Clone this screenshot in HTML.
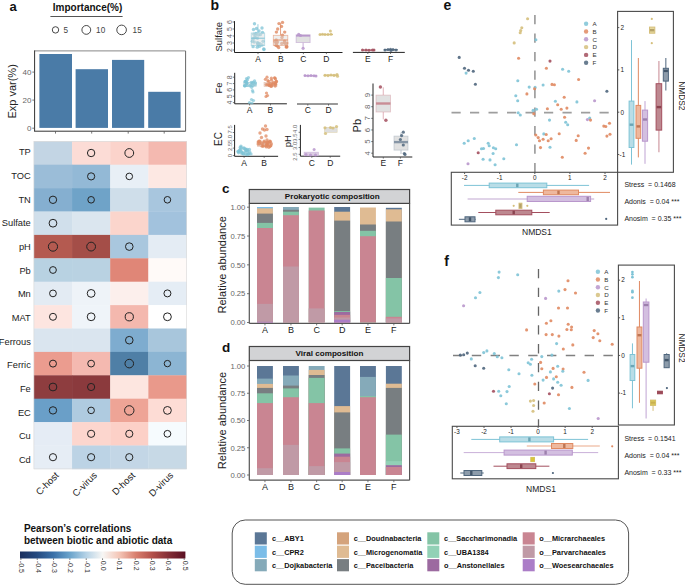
<!DOCTYPE html><html><head><meta charset="utf-8"><style>html,body{margin:0;padding:0;background:#fff;overflow:hidden}svg{display:block;font-family:"Liberation Sans", sans-serif}</style></head><body><svg width="685" height="585" viewBox="0 0 685 585"><text x="9.60" y="11.00" font-size="13" fill="#111" text-anchor="start" font-weight="bold">a</text>
<text x="52.80" y="11.20" font-size="10" fill="#111" text-anchor="start" font-weight="bold">Importance(%)</text>
<line x1="50.40" y1="16.50" x2="122.60" y2="16.50" stroke="#555" stroke-width="1"/>
<circle cx="55.50" cy="29.90" r="3.20" fill="none" stroke="#333" stroke-width="0.9"/>
<text x="63.50" y="32.90" font-size="8.2" fill="#444" text-anchor="start">5</text>
<circle cx="86.30" cy="29.90" r="4.40" fill="none" stroke="#333" stroke-width="0.9"/>
<text x="96.10" y="32.90" font-size="8.2" fill="#444" text-anchor="start">10</text>
<circle cx="121.60" cy="29.90" r="4.80" fill="none" stroke="#333" stroke-width="0.9"/>
<text x="132.60" y="32.90" font-size="8.2" fill="#444" text-anchor="start">15</text>
<rect x="39.40" y="54.00" width="32.60" height="73.90" fill="#4a7ba7" stroke="none" stroke-width="1"/>
<rect x="75.60" y="69.20" width="32.40" height="58.70" fill="#4a7ba7" stroke="none" stroke-width="1"/>
<rect x="112.00" y="59.90" width="32.20" height="68.00" fill="#4a7ba7" stroke="none" stroke-width="1"/>
<rect x="148.20" y="91.80" width="32.40" height="36.10" fill="#4a7ba7" stroke="none" stroke-width="1"/>
<line x1="34.60" y1="50.90" x2="185.60" y2="50.90" stroke="#888" stroke-width="1"/>
<line x1="185.60" y1="50.90" x2="185.60" y2="131.20" stroke="#666" stroke-width="1"/>
<line x1="34.60" y1="50.40" x2="34.60" y2="131.20" stroke="#333" stroke-width="1"/>
<line x1="34.10" y1="131.20" x2="185.60" y2="131.20" stroke="#333" stroke-width="1"/>
<line x1="32.30" y1="128.20" x2="34.60" y2="128.20" stroke="#555" stroke-width="0.8"/>
<text x="31.50" y="131.10" font-size="8" fill="#666" text-anchor="end">0</text>
<line x1="32.30" y1="100.10" x2="34.60" y2="100.10" stroke="#555" stroke-width="0.8"/>
<text x="31.50" y="103.00" font-size="8" fill="#666" text-anchor="end">20</text>
<line x1="32.30" y1="72.10" x2="34.60" y2="72.10" stroke="#555" stroke-width="0.8"/>
<text x="31.50" y="75.00" font-size="8" fill="#666" text-anchor="end">40</text>
<line x1="55.50" y1="131.20" x2="55.50" y2="133.60" stroke="#555" stroke-width="0.8"/>
<line x1="91.70" y1="131.20" x2="91.70" y2="133.60" stroke="#555" stroke-width="0.8"/>
<line x1="128.20" y1="131.20" x2="128.20" y2="133.60" stroke="#555" stroke-width="0.8"/>
<line x1="164.20" y1="131.20" x2="164.20" y2="133.60" stroke="#555" stroke-width="0.8"/>
<text x="16.20" y="91.40" font-size="11" fill="#222" text-anchor="middle" transform="rotate(-90 16.20 91.40)">Exp var(%)</text>
<rect x="33.90" y="141.30" width="38.45" height="23.70" fill="#c3d5e4" stroke="none" stroke-width="1"/>
<rect x="72.05" y="141.30" width="38.45" height="23.70" fill="#fcdcd6" stroke="none" stroke-width="1"/>
<rect x="110.20" y="141.30" width="38.45" height="23.70" fill="#fbd3cb" stroke="none" stroke-width="1"/>
<rect x="148.35" y="141.30" width="38.45" height="23.70" fill="#f4b9b0" stroke="none" stroke-width="1"/>
<text x="30.80" y="155.40" font-size="9.3" fill="#222" text-anchor="end">TP</text>
<rect x="33.90" y="164.70" width="38.45" height="23.70" fill="#9bbdd8" stroke="none" stroke-width="1"/>
<rect x="72.05" y="164.70" width="38.45" height="23.70" fill="#93b9d6" stroke="none" stroke-width="1"/>
<rect x="110.20" y="164.70" width="38.45" height="23.70" fill="#e8eff6" stroke="none" stroke-width="1"/>
<rect x="148.35" y="164.70" width="38.45" height="23.70" fill="#fde8e3" stroke="none" stroke-width="1"/>
<text x="30.80" y="179.07" font-size="9.3" fill="#222" text-anchor="end">TOC</text>
<rect x="33.90" y="188.10" width="38.45" height="23.70" fill="#85afd0" stroke="none" stroke-width="1"/>
<rect x="72.05" y="188.10" width="38.45" height="23.70" fill="#6fa3c8" stroke="none" stroke-width="1"/>
<rect x="110.20" y="188.10" width="38.45" height="23.70" fill="#cfdeea" stroke="none" stroke-width="1"/>
<rect x="148.35" y="188.10" width="38.45" height="23.70" fill="#a8c6de" stroke="none" stroke-width="1"/>
<text x="30.80" y="202.74" font-size="9.3" fill="#222" text-anchor="end">TN</text>
<rect x="33.90" y="211.50" width="38.45" height="23.70" fill="#d0dfeb" stroke="none" stroke-width="1"/>
<rect x="72.05" y="211.50" width="38.45" height="23.70" fill="#dbe6ef" stroke="none" stroke-width="1"/>
<rect x="110.20" y="211.50" width="38.45" height="23.70" fill="#fbd5cc" stroke="none" stroke-width="1"/>
<rect x="148.35" y="211.50" width="38.45" height="23.70" fill="#a2c2dd" stroke="none" stroke-width="1"/>
<text x="30.80" y="226.41" font-size="9.3" fill="#222" text-anchor="end">Sulfate</text>
<rect x="33.90" y="234.90" width="38.45" height="23.70" fill="#b45a50" stroke="none" stroke-width="1"/>
<rect x="72.05" y="234.90" width="38.45" height="23.70" fill="#a44e48" stroke="none" stroke-width="1"/>
<rect x="110.20" y="234.90" width="38.45" height="23.70" fill="#a9c7de" stroke="none" stroke-width="1"/>
<rect x="148.35" y="234.90" width="38.45" height="23.70" fill="#e4ecf4" stroke="none" stroke-width="1"/>
<text x="30.80" y="250.08" font-size="9.3" fill="#222" text-anchor="end">pH</text>
<rect x="33.90" y="258.30" width="38.45" height="23.70" fill="#b8d2e2" stroke="none" stroke-width="1"/>
<rect x="72.05" y="258.30" width="38.45" height="23.70" fill="#b9d2e2" stroke="none" stroke-width="1"/>
<rect x="110.20" y="258.30" width="38.45" height="23.70" fill="#e08677" stroke="none" stroke-width="1"/>
<rect x="148.35" y="258.30" width="38.45" height="23.70" fill="#fffaf8" stroke="none" stroke-width="1"/>
<text x="30.80" y="273.75" font-size="9.3" fill="#222" text-anchor="end">Pb</text>
<rect x="33.90" y="281.70" width="38.45" height="23.70" fill="#e3ebf3" stroke="none" stroke-width="1"/>
<rect x="72.05" y="281.70" width="38.45" height="23.70" fill="#eef3f8" stroke="none" stroke-width="1"/>
<rect x="110.20" y="281.70" width="38.45" height="23.70" fill="#fcefec" stroke="none" stroke-width="1"/>
<rect x="148.35" y="281.70" width="38.45" height="23.70" fill="#e5edf5" stroke="none" stroke-width="1"/>
<text x="30.80" y="297.42" font-size="9.3" fill="#222" text-anchor="end">Mn</text>
<rect x="33.90" y="305.10" width="38.45" height="23.70" fill="#fde5e0" stroke="none" stroke-width="1"/>
<rect x="72.05" y="305.10" width="38.45" height="23.70" fill="#eff4f9" stroke="none" stroke-width="1"/>
<rect x="110.20" y="305.10" width="38.45" height="23.70" fill="#f4b8ae" stroke="none" stroke-width="1"/>
<rect x="148.35" y="305.10" width="38.45" height="23.70" fill="#ffffff" stroke="none" stroke-width="1"/>
<text x="30.80" y="321.09" font-size="9.3" fill="#222" text-anchor="end">MAT</text>
<rect x="33.90" y="328.50" width="38.45" height="23.70" fill="#dae5ef" stroke="none" stroke-width="1"/>
<rect x="72.05" y="328.50" width="38.45" height="23.70" fill="#dae5ef" stroke="none" stroke-width="1"/>
<rect x="110.20" y="328.50" width="38.45" height="23.70" fill="#7eaccf" stroke="none" stroke-width="1"/>
<rect x="148.35" y="328.50" width="38.45" height="23.70" fill="#a8c6dc" stroke="none" stroke-width="1"/>
<text x="30.80" y="344.76" font-size="9.3" fill="#222" text-anchor="end">Ferrous</text>
<rect x="33.90" y="351.90" width="38.45" height="23.70" fill="#eb9c8f" stroke="none" stroke-width="1"/>
<rect x="72.05" y="351.90" width="38.45" height="23.70" fill="#f4b9b0" stroke="none" stroke-width="1"/>
<rect x="110.20" y="351.90" width="38.45" height="23.70" fill="#4f7fa6" stroke="none" stroke-width="1"/>
<rect x="148.35" y="351.90" width="38.45" height="23.70" fill="#8cb5d3" stroke="none" stroke-width="1"/>
<text x="30.80" y="368.43" font-size="9.3" fill="#222" text-anchor="end">Ferric</text>
<rect x="33.90" y="375.30" width="38.45" height="23.70" fill="#8e3d3f" stroke="none" stroke-width="1"/>
<rect x="72.05" y="375.30" width="38.45" height="23.70" fill="#8b3a3d" stroke="none" stroke-width="1"/>
<rect x="110.20" y="375.30" width="38.45" height="23.70" fill="#fde6e0" stroke="none" stroke-width="1"/>
<rect x="148.35" y="375.30" width="38.45" height="23.70" fill="#e9998b" stroke="none" stroke-width="1"/>
<text x="30.80" y="392.10" font-size="9.3" fill="#222" text-anchor="end">Fe</text>
<rect x="33.90" y="398.70" width="38.45" height="23.70" fill="#6a9fc8" stroke="none" stroke-width="1"/>
<rect x="72.05" y="398.70" width="38.45" height="23.70" fill="#afcbe0" stroke="none" stroke-width="1"/>
<rect x="110.20" y="398.70" width="38.45" height="23.70" fill="#eea496" stroke="none" stroke-width="1"/>
<rect x="148.35" y="398.70" width="38.45" height="23.70" fill="#fddcd5" stroke="none" stroke-width="1"/>
<text x="30.80" y="415.77" font-size="9.3" fill="#222" text-anchor="end">EC</text>
<rect x="33.90" y="422.10" width="38.45" height="23.70" fill="#e5ecf5" stroke="none" stroke-width="1"/>
<rect x="72.05" y="422.10" width="38.45" height="23.70" fill="#fcd6ce" stroke="none" stroke-width="1"/>
<rect x="110.20" y="422.10" width="38.45" height="23.70" fill="#fcd0c7" stroke="none" stroke-width="1"/>
<rect x="148.35" y="422.10" width="38.45" height="23.70" fill="#f6fbfe" stroke="none" stroke-width="1"/>
<text x="30.80" y="439.44" font-size="9.3" fill="#222" text-anchor="end">Cu</text>
<rect x="33.90" y="445.50" width="38.45" height="23.70" fill="#e6edf5" stroke="none" stroke-width="1"/>
<rect x="72.05" y="445.50" width="38.45" height="23.70" fill="#bcd3e5" stroke="none" stroke-width="1"/>
<rect x="110.20" y="445.50" width="38.45" height="23.70" fill="#c3d6e6" stroke="none" stroke-width="1"/>
<rect x="148.35" y="445.50" width="38.45" height="23.70" fill="#c7d9e6" stroke="none" stroke-width="1"/>
<text x="30.80" y="463.11" font-size="9.3" fill="#222" text-anchor="end">Cd</text>
<circle cx="91.12" cy="153.00" r="3.70" fill="none" stroke="#222" stroke-width="1.0"/>
<circle cx="129.28" cy="153.00" r="4.40" fill="none" stroke="#222" stroke-width="1.0"/>
<circle cx="91.12" cy="176.40" r="3.60" fill="none" stroke="#222" stroke-width="1.0"/>
<circle cx="129.28" cy="176.40" r="3.30" fill="none" stroke="#222" stroke-width="1.0"/>
<circle cx="52.97" cy="199.80" r="3.70" fill="none" stroke="#222" stroke-width="1.0"/>
<circle cx="91.12" cy="199.80" r="3.30" fill="none" stroke="#222" stroke-width="1.0"/>
<circle cx="167.43" cy="199.80" r="3.30" fill="none" stroke="#222" stroke-width="1.0"/>
<circle cx="52.97" cy="223.20" r="3.90" fill="none" stroke="#222" stroke-width="1.0"/>
<circle cx="52.97" cy="246.60" r="4.60" fill="none" stroke="#222" stroke-width="1.0"/>
<circle cx="91.12" cy="246.60" r="4.40" fill="none" stroke="#222" stroke-width="1.0"/>
<circle cx="129.28" cy="246.60" r="3.80" fill="none" stroke="#222" stroke-width="1.0"/>
<circle cx="52.97" cy="270.00" r="3.40" fill="none" stroke="#222" stroke-width="1.0"/>
<circle cx="52.97" cy="293.40" r="3.40" fill="none" stroke="#222" stroke-width="1.0"/>
<circle cx="91.12" cy="293.40" r="3.90" fill="none" stroke="#222" stroke-width="1.0"/>
<circle cx="167.43" cy="293.40" r="3.50" fill="none" stroke="#222" stroke-width="1.0"/>
<circle cx="52.97" cy="316.80" r="3.50" fill="none" stroke="#222" stroke-width="1.0"/>
<circle cx="91.12" cy="316.80" r="3.90" fill="none" stroke="#222" stroke-width="1.0"/>
<circle cx="129.28" cy="316.80" r="4.10" fill="none" stroke="#222" stroke-width="1.0"/>
<circle cx="167.43" cy="316.80" r="3.90" fill="none" stroke="#222" stroke-width="1.0"/>
<circle cx="129.28" cy="340.20" r="3.80" fill="none" stroke="#222" stroke-width="1.0"/>
<circle cx="52.97" cy="363.60" r="3.50" fill="none" stroke="#222" stroke-width="1.0"/>
<circle cx="91.12" cy="363.60" r="3.40" fill="none" stroke="#222" stroke-width="1.0"/>
<circle cx="129.28" cy="363.60" r="4.30" fill="none" stroke="#222" stroke-width="1.0"/>
<circle cx="167.43" cy="363.60" r="3.20" fill="none" stroke="#222" stroke-width="1.0"/>
<circle cx="52.97" cy="387.00" r="3.90" fill="none" stroke="#222" stroke-width="1.0"/>
<circle cx="91.12" cy="387.00" r="3.60" fill="none" stroke="#222" stroke-width="1.0"/>
<circle cx="52.97" cy="410.40" r="3.70" fill="none" stroke="#222" stroke-width="1.0"/>
<circle cx="91.12" cy="410.40" r="3.30" fill="none" stroke="#222" stroke-width="1.0"/>
<circle cx="129.28" cy="410.40" r="4.70" fill="none" stroke="#222" stroke-width="1.0"/>
<circle cx="167.43" cy="410.40" r="3.90" fill="none" stroke="#222" stroke-width="1.0"/>
<circle cx="91.12" cy="433.80" r="3.60" fill="none" stroke="#222" stroke-width="1.0"/>
<circle cx="129.28" cy="433.80" r="3.60" fill="none" stroke="#222" stroke-width="1.0"/>
<circle cx="167.43" cy="433.80" r="3.40" fill="none" stroke="#222" stroke-width="1.0"/>
<circle cx="52.97" cy="457.20" r="3.60" fill="none" stroke="#222" stroke-width="1.0"/>
<circle cx="91.12" cy="457.20" r="3.60" fill="none" stroke="#222" stroke-width="1.0"/>
<circle cx="129.28" cy="457.20" r="3.60" fill="none" stroke="#222" stroke-width="1.0"/>
<rect x="33.90" y="141.30" width="152.60" height="327.60" fill="none" stroke="#d8d8d8" stroke-width="0.6"/>
<text x="59.47" y="476.00" font-size="9.5" fill="#222" text-anchor="end" transform="rotate(-45 59.47 476.00)">C-host</text>
<text x="97.62" y="476.00" font-size="9.5" fill="#222" text-anchor="end" transform="rotate(-45 97.62 476.00)">C-virus</text>
<text x="135.78" y="476.00" font-size="9.5" fill="#222" text-anchor="end" transform="rotate(-45 135.78 476.00)">D-host</text>
<text x="173.93" y="476.00" font-size="9.5" fill="#222" text-anchor="end" transform="rotate(-45 173.93 476.00)">D-virus</text>
<text x="23.90" y="531.80" font-size="10" fill="#111" text-anchor="start" font-weight="bold">Pearson’s correlations</text>
<text x="23.90" y="543.90" font-size="10" fill="#111" text-anchor="start" font-weight="bold">between biotic and abiotic data</text>
<defs><linearGradient id="rdbu" x1="0" x2="1" y1="0" y2="0"><stop offset="0" stop-color="#1b2f5e"/><stop offset="0.1" stop-color="#24497f"/><stop offset="0.2" stop-color="#3a70a8"/><stop offset="0.3" stop-color="#6aa3cb"/><stop offset="0.4" stop-color="#b5d2e6"/><stop offset="0.5" stop-color="#f7f6f4"/><stop offset="0.6" stop-color="#f4c6b7"/><stop offset="0.7" stop-color="#d97f6e"/><stop offset="0.8" stop-color="#b3504a"/><stop offset="0.9" stop-color="#832e36"/><stop offset="1" stop-color="#5a0f22"/></linearGradient></defs>
<rect x="20.00" y="551.50" width="165.40" height="7.00" fill="url(#rdbu)" stroke="none" stroke-width="1"/>
<line x1="20.90" y1="558.50" x2="20.90" y2="559.80" stroke="#333" stroke-width="0.8"/>
<text x="19.30" y="560.80" font-size="7" fill="#333" text-anchor="start" transform="rotate(90 19.30 560.80)">-0.5</text>
<line x1="37.23" y1="558.50" x2="37.23" y2="559.80" stroke="#333" stroke-width="0.8"/>
<text x="35.63" y="560.80" font-size="7" fill="#333" text-anchor="start" transform="rotate(90 35.63 560.80)">-0.4</text>
<line x1="53.56" y1="558.50" x2="53.56" y2="559.80" stroke="#333" stroke-width="0.8"/>
<text x="51.96" y="560.80" font-size="7" fill="#333" text-anchor="start" transform="rotate(90 51.96 560.80)">-0.3</text>
<line x1="69.89" y1="558.50" x2="69.89" y2="559.80" stroke="#333" stroke-width="0.8"/>
<text x="68.29" y="560.80" font-size="7" fill="#333" text-anchor="start" transform="rotate(90 68.29 560.80)">-0.2</text>
<line x1="86.22" y1="558.50" x2="86.22" y2="559.80" stroke="#333" stroke-width="0.8"/>
<text x="84.62" y="560.80" font-size="7" fill="#333" text-anchor="start" transform="rotate(90 84.62 560.80)">-0.1</text>
<line x1="102.55" y1="558.50" x2="102.55" y2="559.80" stroke="#333" stroke-width="0.8"/>
<text x="100.95" y="560.80" font-size="7" fill="#333" text-anchor="start" transform="rotate(90 100.95 560.80)">0.0</text>
<line x1="118.88" y1="558.50" x2="118.88" y2="559.80" stroke="#333" stroke-width="0.8"/>
<text x="117.28" y="560.80" font-size="7" fill="#333" text-anchor="start" transform="rotate(90 117.28 560.80)">0.1</text>
<line x1="135.21" y1="558.50" x2="135.21" y2="559.80" stroke="#333" stroke-width="0.8"/>
<text x="133.61" y="560.80" font-size="7" fill="#333" text-anchor="start" transform="rotate(90 133.61 560.80)">0.2</text>
<line x1="151.54" y1="558.50" x2="151.54" y2="559.80" stroke="#333" stroke-width="0.8"/>
<text x="149.94" y="560.80" font-size="7" fill="#333" text-anchor="start" transform="rotate(90 149.94 560.80)">0.3</text>
<line x1="167.87" y1="558.50" x2="167.87" y2="559.80" stroke="#333" stroke-width="0.8"/>
<text x="166.27" y="560.80" font-size="7" fill="#333" text-anchor="start" transform="rotate(90 166.27 560.80)">0.4</text>
<line x1="184.20" y1="558.50" x2="184.20" y2="559.80" stroke="#333" stroke-width="0.8"/>
<text x="182.60" y="560.80" font-size="7" fill="#333" text-anchor="start" transform="rotate(90 182.60 560.80)">0.5</text>
<text x="210.50" y="10.20" font-size="14" fill="#111" text-anchor="start" font-weight="bold">b</text>
<line x1="234.50" y1="21.10" x2="234.50" y2="52.50" stroke="#222" stroke-width="1"/>
<line x1="232.70" y1="50.00" x2="234.50" y2="50.00" stroke="#444" stroke-width="0.7"/>
<text x="231.70" y="50.00" font-size="7" fill="#666" text-anchor="middle" transform="rotate(-90 231.70 50.00)">2</text>
<line x1="232.70" y1="43.00" x2="234.50" y2="43.00" stroke="#444" stroke-width="0.7"/>
<text x="231.70" y="43.00" font-size="7" fill="#666" text-anchor="middle" transform="rotate(-90 231.70 43.00)">3</text>
<line x1="232.70" y1="36.00" x2="234.50" y2="36.00" stroke="#444" stroke-width="0.7"/>
<text x="231.70" y="36.00" font-size="7" fill="#666" text-anchor="middle" transform="rotate(-90 231.70 36.00)">4</text>
<line x1="232.70" y1="29.00" x2="234.50" y2="29.00" stroke="#444" stroke-width="0.7"/>
<text x="231.70" y="29.00" font-size="7" fill="#666" text-anchor="middle" transform="rotate(-90 231.70 29.00)">5</text>
<line x1="232.70" y1="22.00" x2="234.50" y2="22.00" stroke="#444" stroke-width="0.7"/>
<text x="231.70" y="22.00" font-size="7" fill="#666" text-anchor="middle" transform="rotate(-90 231.70 22.00)">6</text>
<line x1="234.50" y1="52.50" x2="342.50" y2="52.50" stroke="#222" stroke-width="1"/>
<line x1="258.00" y1="52.50" x2="258.00" y2="54.10" stroke="#444" stroke-width="0.7"/>
<text x="258.00" y="61.90" font-size="8.5" fill="#222" text-anchor="middle">A</text>
<line x1="280.80" y1="52.50" x2="280.80" y2="54.10" stroke="#444" stroke-width="0.7"/>
<text x="280.80" y="61.90" font-size="8.5" fill="#222" text-anchor="middle">B</text>
<line x1="303.40" y1="52.50" x2="303.40" y2="54.10" stroke="#444" stroke-width="0.7"/>
<text x="303.40" y="61.90" font-size="8.5" fill="#222" text-anchor="middle">C</text>
<line x1="326.40" y1="52.50" x2="326.40" y2="54.10" stroke="#444" stroke-width="0.7"/>
<text x="326.40" y="61.90" font-size="8.5" fill="#222" text-anchor="middle">D</text>
<text x="221.80" y="36.80" font-size="9.5" fill="#222" text-anchor="middle" transform="rotate(-90 221.80 36.80)">Sulfate</text>
<circle cx="254.50" cy="23.80" r="1.70" fill="#7ec3d6" stroke="none" stroke-width="0" fill-opacity="0.75"/>
<circle cx="256.50" cy="28.50" r="1.70" fill="#7ec3d6" stroke="none" stroke-width="0" fill-opacity="0.75"/>
<circle cx="262.00" cy="28.00" r="1.70" fill="#7ec3d6" stroke="none" stroke-width="0" fill-opacity="0.75"/>
<circle cx="253.50" cy="29.50" r="1.70" fill="#7ec3d6" stroke="none" stroke-width="0" fill-opacity="0.75"/>
<circle cx="259.00" cy="31.00" r="1.70" fill="#7ec3d6" stroke="none" stroke-width="0" fill-opacity="0.75"/>
<circle cx="262.50" cy="32.50" r="1.70" fill="#7ec3d6" stroke="none" stroke-width="0" fill-opacity="0.75"/>
<circle cx="256.00" cy="33.50" r="1.70" fill="#7ec3d6" stroke="none" stroke-width="0" fill-opacity="0.75"/>
<circle cx="257.43" cy="42.73" r="1.70" fill="#7ec3d6" stroke="none" stroke-width="0" fill-opacity="0.75"/>
<circle cx="263.09" cy="41.26" r="1.70" fill="#7ec3d6" stroke="none" stroke-width="0" fill-opacity="0.75"/>
<circle cx="258.09" cy="43.16" r="1.70" fill="#7ec3d6" stroke="none" stroke-width="0" fill-opacity="0.75"/>
<circle cx="254.22" cy="41.99" r="1.70" fill="#7ec3d6" stroke="none" stroke-width="0" fill-opacity="0.75"/>
<circle cx="259.56" cy="46.37" r="1.70" fill="#7ec3d6" stroke="none" stroke-width="0" fill-opacity="0.75"/>
<circle cx="253.13" cy="38.73" r="1.70" fill="#7ec3d6" stroke="none" stroke-width="0" fill-opacity="0.75"/>
<circle cx="253.09" cy="46.63" r="1.70" fill="#7ec3d6" stroke="none" stroke-width="0" fill-opacity="0.75"/>
<circle cx="260.32" cy="34.65" r="1.70" fill="#7ec3d6" stroke="none" stroke-width="0" fill-opacity="0.75"/>
<circle cx="263.79" cy="49.05" r="1.70" fill="#7ec3d6" stroke="none" stroke-width="0" fill-opacity="0.75"/>
<circle cx="259.85" cy="43.60" r="1.70" fill="#7ec3d6" stroke="none" stroke-width="0" fill-opacity="0.75"/>
<circle cx="253.89" cy="34.23" r="1.70" fill="#7ec3d6" stroke="none" stroke-width="0" fill-opacity="0.75"/>
<circle cx="258.34" cy="34.93" r="1.70" fill="#7ec3d6" stroke="none" stroke-width="0" fill-opacity="0.75"/>
<circle cx="254.28" cy="37.77" r="1.70" fill="#7ec3d6" stroke="none" stroke-width="0" fill-opacity="0.75"/>
<circle cx="252.36" cy="41.24" r="1.70" fill="#7ec3d6" stroke="none" stroke-width="0" fill-opacity="0.75"/>
<circle cx="257.29" cy="47.14" r="1.70" fill="#7ec3d6" stroke="none" stroke-width="0" fill-opacity="0.75"/>
<circle cx="258.23" cy="43.99" r="1.70" fill="#7ec3d6" stroke="none" stroke-width="0" fill-opacity="0.75"/>
<circle cx="258.00" cy="44.33" r="1.70" fill="#7ec3d6" stroke="none" stroke-width="0" fill-opacity="0.75"/>
<circle cx="257.49" cy="38.34" r="1.70" fill="#7ec3d6" stroke="none" stroke-width="0" fill-opacity="0.75"/>
<circle cx="263.97" cy="49.53" r="1.70" fill="#7ec3d6" stroke="none" stroke-width="0" fill-opacity="0.75"/>
<circle cx="262.08" cy="45.04" r="1.70" fill="#7ec3d6" stroke="none" stroke-width="0" fill-opacity="0.75"/>
<circle cx="255.78" cy="37.58" r="1.70" fill="#7ec3d6" stroke="none" stroke-width="0" fill-opacity="0.75"/>
<circle cx="255.47" cy="35.10" r="1.70" fill="#7ec3d6" stroke="none" stroke-width="0" fill-opacity="0.75"/>
<line x1="257.95" y1="24.20" x2="257.95" y2="33.00" stroke="#7ec3d6" stroke-width="0.8"/>
<rect x="251.20" y="33.00" width="13.50" height="12.60" fill="#dcdcdc" stroke="#7ec3d6" stroke-width="0.8" fill-opacity="0.45" stroke-opacity="0.6"/>
<line x1="251.20" y1="38.20" x2="264.70" y2="38.20" stroke="#7ec3d6" stroke-width="1.0"/>
<circle cx="279.00" cy="23.60" r="1.70" fill="#e08a62" stroke="none" stroke-width="0" fill-opacity="0.8"/>
<circle cx="282.50" cy="22.40" r="1.70" fill="#e08a62" stroke="none" stroke-width="0" fill-opacity="0.8"/>
<circle cx="281.50" cy="26.40" r="1.70" fill="#e08a62" stroke="none" stroke-width="0" fill-opacity="0.8"/>
<circle cx="277.70" cy="29.00" r="1.70" fill="#e08a62" stroke="none" stroke-width="0" fill-opacity="0.8"/>
<circle cx="276.40" cy="32.10" r="1.70" fill="#e08a62" stroke="none" stroke-width="0" fill-opacity="0.8"/>
<circle cx="284.70" cy="32.10" r="1.70" fill="#e08a62" stroke="none" stroke-width="0" fill-opacity="0.8"/>
<circle cx="282.50" cy="35.30" r="1.70" fill="#e08a62" stroke="none" stroke-width="0" fill-opacity="0.8"/>
<circle cx="282.00" cy="37.50" r="1.70" fill="#e08a62" stroke="none" stroke-width="0" fill-opacity="0.8"/>
<circle cx="284.20" cy="43.10" r="1.70" fill="#e08a62" stroke="none" stroke-width="0" fill-opacity="0.8"/>
<circle cx="285.16" cy="42.98" r="1.70" fill="#e08a62" stroke="none" stroke-width="0" fill-opacity="0.8"/>
<circle cx="286.50" cy="47.13" r="1.70" fill="#e08a62" stroke="none" stroke-width="0" fill-opacity="0.8"/>
<circle cx="275.01" cy="41.39" r="1.70" fill="#e08a62" stroke="none" stroke-width="0" fill-opacity="0.8"/>
<circle cx="285.92" cy="43.73" r="1.70" fill="#e08a62" stroke="none" stroke-width="0" fill-opacity="0.8"/>
<circle cx="286.76" cy="43.08" r="1.70" fill="#e08a62" stroke="none" stroke-width="0" fill-opacity="0.8"/>
<circle cx="275.88" cy="45.17" r="1.70" fill="#e08a62" stroke="none" stroke-width="0" fill-opacity="0.8"/>
<circle cx="284.34" cy="41.93" r="1.70" fill="#e08a62" stroke="none" stroke-width="0" fill-opacity="0.8"/>
<circle cx="276.05" cy="42.49" r="1.70" fill="#e08a62" stroke="none" stroke-width="0" fill-opacity="0.8"/>
<circle cx="286.57" cy="46.32" r="1.70" fill="#e08a62" stroke="none" stroke-width="0" fill-opacity="0.8"/>
<circle cx="276.42" cy="41.72" r="1.70" fill="#e08a62" stroke="none" stroke-width="0" fill-opacity="0.8"/>
<circle cx="276.21" cy="40.04" r="1.70" fill="#e08a62" stroke="none" stroke-width="0" fill-opacity="0.8"/>
<circle cx="284.56" cy="41.10" r="1.70" fill="#e08a62" stroke="none" stroke-width="0" fill-opacity="0.8"/>
<circle cx="281.71" cy="43.53" r="1.70" fill="#e08a62" stroke="none" stroke-width="0" fill-opacity="0.8"/>
<circle cx="277.29" cy="46.09" r="1.70" fill="#e08a62" stroke="none" stroke-width="0" fill-opacity="0.8"/>
<circle cx="276.57" cy="45.29" r="1.70" fill="#e08a62" stroke="none" stroke-width="0" fill-opacity="0.8"/>
<circle cx="276.40" cy="43.29" r="1.70" fill="#e08a62" stroke="none" stroke-width="0" fill-opacity="0.8"/>
<circle cx="277.55" cy="41.93" r="1.70" fill="#e08a62" stroke="none" stroke-width="0" fill-opacity="0.8"/>
<circle cx="286.65" cy="46.73" r="1.70" fill="#e08a62" stroke="none" stroke-width="0" fill-opacity="0.8"/>
<circle cx="278.65" cy="47.46" r="1.70" fill="#e08a62" stroke="none" stroke-width="0" fill-opacity="0.8"/>
<line x1="280.55" y1="23.30" x2="280.55" y2="35.30" stroke="#e08a62" stroke-width="0.8"/>
<rect x="273.30" y="35.30" width="14.50" height="10.20" fill="#dcdcdc" stroke="#e08a62" stroke-width="0.8" fill-opacity="0.45" stroke-opacity="0.6"/>
<line x1="273.30" y1="40.00" x2="287.80" y2="40.00" stroke="#e08a62" stroke-width="1.0"/>
<line x1="303.10" y1="42.60" x2="303.10" y2="48.30" stroke="#b997cc" stroke-width="0.8"/>
<rect x="296.10" y="34.70" width="14.00" height="7.90" fill="#dcdcdc" stroke="#b997cc" stroke-width="0.8" fill-opacity="0.85" stroke-opacity="0.6"/>
<line x1="296.10" y1="35.80" x2="310.10" y2="35.80" stroke="#b997cc" stroke-width="1.6"/>
<circle cx="298.70" cy="34.30" r="1.60" fill="#b997cc" stroke="none" stroke-width="0" fill-opacity="0.85"/>
<circle cx="300.50" cy="35.50" r="1.60" fill="#b997cc" stroke="none" stroke-width="0" fill-opacity="0.85"/>
<circle cx="303.10" cy="48.30" r="1.60" fill="#b997cc" stroke="none" stroke-width="0" fill-opacity="0.85"/>
<circle cx="320.00" cy="34.60" r="1.50" fill="#d5bf7c" stroke="none" stroke-width="0" fill-opacity="0.85"/>
<circle cx="322.50" cy="34.30" r="1.50" fill="#d5bf7c" stroke="none" stroke-width="0" fill-opacity="0.85"/>
<circle cx="325.00" cy="34.50" r="1.50" fill="#d5bf7c" stroke="none" stroke-width="0" fill-opacity="0.85"/>
<circle cx="328.00" cy="34.40" r="1.50" fill="#d5bf7c" stroke="none" stroke-width="0" fill-opacity="0.85"/>
<circle cx="331.00" cy="34.20" r="1.50" fill="#d5bf7c" stroke="none" stroke-width="0" fill-opacity="0.85"/>
<circle cx="330.40" cy="30.90" r="1.50" fill="#d5bf7c" stroke="none" stroke-width="0" fill-opacity="0.85"/>
<line x1="319.50" y1="34.50" x2="333.00" y2="34.50" stroke="#d5bf7c" stroke-width="1.2"/>
<line x1="352.90" y1="52.40" x2="404.80" y2="52.40" stroke="#222" stroke-width="1"/>
<line x1="367.80" y1="52.40" x2="367.80" y2="54.00" stroke="#444" stroke-width="0.7"/>
<text x="367.80" y="61.80" font-size="8.5" fill="#222" text-anchor="middle">E</text>
<line x1="390.50" y1="52.40" x2="390.50" y2="54.00" stroke="#444" stroke-width="0.7"/>
<text x="390.50" y="61.80" font-size="8.5" fill="#222" text-anchor="middle">F</text>
<line x1="361.60" y1="50.10" x2="375.00" y2="50.10" stroke="#a34f5e" stroke-width="1.2"/>
<circle cx="362.50" cy="50.10" r="1.50" fill="#a34f5e" stroke="none" stroke-width="0" fill-opacity="0.85"/>
<circle cx="366.00" cy="50.10" r="1.50" fill="#a34f5e" stroke="none" stroke-width="0" fill-opacity="0.85"/>
<circle cx="369.00" cy="50.20" r="1.50" fill="#a34f5e" stroke="none" stroke-width="0" fill-opacity="0.85"/>
<circle cx="372.50" cy="50.00" r="1.50" fill="#a34f5e" stroke="none" stroke-width="0" fill-opacity="0.85"/>
<circle cx="374.00" cy="50.10" r="1.50" fill="#a34f5e" stroke="none" stroke-width="0" fill-opacity="0.85"/>
<line x1="383.80" y1="49.80" x2="397.80" y2="49.80" stroke="#4f667d" stroke-width="1.3"/>
<circle cx="385.00" cy="49.90" r="1.50" fill="#4f667d" stroke="none" stroke-width="0" fill-opacity="0.85"/>
<circle cx="388.00" cy="49.50" r="1.50" fill="#4f667d" stroke="none" stroke-width="0" fill-opacity="0.85"/>
<circle cx="390.50" cy="49.20" r="1.50" fill="#4f667d" stroke="none" stroke-width="0" fill-opacity="0.85"/>
<circle cx="393.00" cy="49.60" r="1.50" fill="#4f667d" stroke="none" stroke-width="0" fill-opacity="0.85"/>
<circle cx="396.00" cy="49.90" r="1.50" fill="#4f667d" stroke="none" stroke-width="0" fill-opacity="0.85"/>
<circle cx="391.00" cy="50.40" r="1.50" fill="#4f667d" stroke="none" stroke-width="0" fill-opacity="0.85"/>
<line x1="234.70" y1="72.80" x2="234.70" y2="103.80" stroke="#222" stroke-width="1"/>
<line x1="232.90" y1="102.60" x2="234.70" y2="102.60" stroke="#444" stroke-width="0.7"/>
<text x="231.90" y="102.60" font-size="7" fill="#666" text-anchor="middle" transform="rotate(-90 231.90 102.60)">4</text>
<line x1="232.90" y1="96.25" x2="234.70" y2="96.25" stroke="#444" stroke-width="0.7"/>
<text x="231.90" y="96.25" font-size="7" fill="#666" text-anchor="middle" transform="rotate(-90 231.90 96.25)">5</text>
<line x1="232.90" y1="89.90" x2="234.70" y2="89.90" stroke="#444" stroke-width="0.7"/>
<text x="231.90" y="89.90" font-size="7" fill="#666" text-anchor="middle" transform="rotate(-90 231.90 89.90)">6</text>
<line x1="232.90" y1="83.55" x2="234.70" y2="83.55" stroke="#444" stroke-width="0.7"/>
<text x="231.90" y="83.55" font-size="7" fill="#666" text-anchor="middle" transform="rotate(-90 231.90 83.55)">7</text>
<line x1="232.90" y1="77.20" x2="234.70" y2="77.20" stroke="#444" stroke-width="0.7"/>
<text x="231.90" y="77.20" font-size="7" fill="#666" text-anchor="middle" transform="rotate(-90 231.90 77.20)">8</text>
<line x1="234.70" y1="103.80" x2="286.90" y2="103.80" stroke="#222" stroke-width="1"/>
<line x1="249.60" y1="103.80" x2="249.60" y2="105.40" stroke="#444" stroke-width="0.7"/>
<text x="249.60" y="113.20" font-size="8.5" fill="#222" text-anchor="middle">A</text>
<line x1="270.40" y1="103.80" x2="270.40" y2="105.40" stroke="#444" stroke-width="0.7"/>
<text x="270.40" y="113.20" font-size="8.5" fill="#222" text-anchor="middle">B</text>
<text x="222.20" y="88.00" font-size="9.5" fill="#222" text-anchor="middle" transform="rotate(-90 222.20 88.00)">Fe</text>
<rect x="243.50" y="82.50" width="13.00" height="4.00" fill="#dcdcdc" stroke="#7ec3d6" stroke-width="0.6" fill-opacity="0.7" stroke-opacity="0.5"/>
<circle cx="246.53" cy="78.55" r="1.60" fill="#7ec3d6" stroke="none" stroke-width="0" fill-opacity="0.7"/>
<circle cx="251.70" cy="87.37" r="1.60" fill="#7ec3d6" stroke="none" stroke-width="0" fill-opacity="0.7"/>
<circle cx="245.20" cy="85.71" r="1.60" fill="#7ec3d6" stroke="none" stroke-width="0" fill-opacity="0.7"/>
<circle cx="247.10" cy="83.35" r="1.60" fill="#7ec3d6" stroke="none" stroke-width="0" fill-opacity="0.7"/>
<circle cx="253.27" cy="82.22" r="1.60" fill="#7ec3d6" stroke="none" stroke-width="0" fill-opacity="0.7"/>
<circle cx="244.88" cy="85.86" r="1.60" fill="#7ec3d6" stroke="none" stroke-width="0" fill-opacity="0.7"/>
<circle cx="245.08" cy="81.43" r="1.60" fill="#7ec3d6" stroke="none" stroke-width="0" fill-opacity="0.7"/>
<circle cx="251.22" cy="82.31" r="1.60" fill="#7ec3d6" stroke="none" stroke-width="0" fill-opacity="0.7"/>
<circle cx="248.46" cy="77.50" r="1.60" fill="#7ec3d6" stroke="none" stroke-width="0" fill-opacity="0.7"/>
<circle cx="249.80" cy="85.85" r="1.60" fill="#7ec3d6" stroke="none" stroke-width="0" fill-opacity="0.7"/>
<circle cx="250.89" cy="84.86" r="1.60" fill="#7ec3d6" stroke="none" stroke-width="0" fill-opacity="0.7"/>
<circle cx="245.85" cy="81.99" r="1.60" fill="#7ec3d6" stroke="none" stroke-width="0" fill-opacity="0.7"/>
<circle cx="254.90" cy="84.50" r="1.60" fill="#7ec3d6" stroke="none" stroke-width="0" fill-opacity="0.7"/>
<circle cx="246.28" cy="81.29" r="1.60" fill="#7ec3d6" stroke="none" stroke-width="0" fill-opacity="0.7"/>
<circle cx="252.87" cy="85.47" r="1.60" fill="#7ec3d6" stroke="none" stroke-width="0" fill-opacity="0.7"/>
<circle cx="255.40" cy="82.73" r="1.60" fill="#7ec3d6" stroke="none" stroke-width="0" fill-opacity="0.7"/>
<circle cx="254.59" cy="80.84" r="1.60" fill="#7ec3d6" stroke="none" stroke-width="0" fill-opacity="0.7"/>
<circle cx="245.25" cy="81.47" r="1.60" fill="#7ec3d6" stroke="none" stroke-width="0" fill-opacity="0.7"/>
<circle cx="244.46" cy="85.80" r="1.60" fill="#7ec3d6" stroke="none" stroke-width="0" fill-opacity="0.7"/>
<circle cx="252.45" cy="82.95" r="1.60" fill="#7ec3d6" stroke="none" stroke-width="0" fill-opacity="0.7"/>
<circle cx="247.08" cy="85.43" r="1.60" fill="#7ec3d6" stroke="none" stroke-width="0" fill-opacity="0.7"/>
<circle cx="247.52" cy="79.64" r="1.60" fill="#7ec3d6" stroke="none" stroke-width="0" fill-opacity="0.7"/>
<circle cx="246.11" cy="83.28" r="1.60" fill="#7ec3d6" stroke="none" stroke-width="0" fill-opacity="0.7"/>
<circle cx="246.74" cy="82.31" r="1.60" fill="#7ec3d6" stroke="none" stroke-width="0" fill-opacity="0.7"/>
<circle cx="252.50" cy="90.50" r="1.60" fill="#7ec3d6" stroke="none" stroke-width="0" fill-opacity="0.7"/>
<circle cx="253.00" cy="92.00" r="1.60" fill="#7ec3d6" stroke="none" stroke-width="0" fill-opacity="0.7"/>
<circle cx="251.50" cy="99.50" r="1.60" fill="#7ec3d6" stroke="none" stroke-width="0" fill-opacity="0.7"/>
<circle cx="253.50" cy="100.50" r="1.60" fill="#7ec3d6" stroke="none" stroke-width="0" fill-opacity="0.7"/>
<circle cx="249.50" cy="102.50" r="1.60" fill="#7ec3d6" stroke="none" stroke-width="0" fill-opacity="0.7"/>
<circle cx="252.00" cy="103.00" r="1.60" fill="#7ec3d6" stroke="none" stroke-width="0" fill-opacity="0.7"/>
<rect x="264.00" y="82.50" width="13.00" height="4.00" fill="#dcdcdc" stroke="#e08a62" stroke-width="0.6" fill-opacity="0.7" stroke-opacity="0.5"/>
<circle cx="271.21" cy="86.48" r="1.60" fill="#e08a62" stroke="none" stroke-width="0" fill-opacity="0.75"/>
<circle cx="267.86" cy="80.69" r="1.60" fill="#e08a62" stroke="none" stroke-width="0" fill-opacity="0.75"/>
<circle cx="275.51" cy="84.16" r="1.60" fill="#e08a62" stroke="none" stroke-width="0" fill-opacity="0.75"/>
<circle cx="267.73" cy="84.53" r="1.60" fill="#e08a62" stroke="none" stroke-width="0" fill-opacity="0.75"/>
<circle cx="269.85" cy="85.74" r="1.60" fill="#e08a62" stroke="none" stroke-width="0" fill-opacity="0.75"/>
<circle cx="268.93" cy="84.69" r="1.60" fill="#e08a62" stroke="none" stroke-width="0" fill-opacity="0.75"/>
<circle cx="271.37" cy="85.93" r="1.60" fill="#e08a62" stroke="none" stroke-width="0" fill-opacity="0.75"/>
<circle cx="275.19" cy="86.09" r="1.60" fill="#e08a62" stroke="none" stroke-width="0" fill-opacity="0.75"/>
<circle cx="276.27" cy="81.46" r="1.60" fill="#e08a62" stroke="none" stroke-width="0" fill-opacity="0.75"/>
<circle cx="271.51" cy="80.17" r="1.60" fill="#e08a62" stroke="none" stroke-width="0" fill-opacity="0.75"/>
<circle cx="266.18" cy="84.56" r="1.60" fill="#e08a62" stroke="none" stroke-width="0" fill-opacity="0.75"/>
<circle cx="275.42" cy="84.12" r="1.60" fill="#e08a62" stroke="none" stroke-width="0" fill-opacity="0.75"/>
<circle cx="272.91" cy="84.60" r="1.60" fill="#e08a62" stroke="none" stroke-width="0" fill-opacity="0.75"/>
<circle cx="272.13" cy="83.86" r="1.60" fill="#e08a62" stroke="none" stroke-width="0" fill-opacity="0.75"/>
<circle cx="270.29" cy="83.68" r="1.60" fill="#e08a62" stroke="none" stroke-width="0" fill-opacity="0.75"/>
<circle cx="276.49" cy="81.39" r="1.60" fill="#e08a62" stroke="none" stroke-width="0" fill-opacity="0.75"/>
<circle cx="265.40" cy="79.30" r="1.60" fill="#e08a62" stroke="none" stroke-width="0" fill-opacity="0.75"/>
<circle cx="275.30" cy="82.60" r="1.60" fill="#e08a62" stroke="none" stroke-width="0" fill-opacity="0.75"/>
<circle cx="273.35" cy="82.47" r="1.60" fill="#e08a62" stroke="none" stroke-width="0" fill-opacity="0.75"/>
<circle cx="275.48" cy="78.90" r="1.60" fill="#e08a62" stroke="none" stroke-width="0" fill-opacity="0.75"/>
<circle cx="268.72" cy="81.44" r="1.60" fill="#e08a62" stroke="none" stroke-width="0" fill-opacity="0.75"/>
<circle cx="274.95" cy="78.08" r="1.60" fill="#e08a62" stroke="none" stroke-width="0" fill-opacity="0.75"/>
<circle cx="269.51" cy="85.51" r="1.60" fill="#e08a62" stroke="none" stroke-width="0" fill-opacity="0.75"/>
<circle cx="271.37" cy="78.21" r="1.60" fill="#e08a62" stroke="none" stroke-width="0" fill-opacity="0.75"/>
<circle cx="267.00" cy="77.20" r="1.60" fill="#e08a62" stroke="none" stroke-width="0" fill-opacity="0.75"/>
<circle cx="274.50" cy="77.80" r="1.60" fill="#e08a62" stroke="none" stroke-width="0" fill-opacity="0.75"/>
<circle cx="266.50" cy="93.00" r="1.60" fill="#e08a62" stroke="none" stroke-width="0" fill-opacity="0.75"/>
<circle cx="267.50" cy="95.50" r="1.60" fill="#e08a62" stroke="none" stroke-width="0" fill-opacity="0.75"/>
<circle cx="266.00" cy="96.50" r="1.60" fill="#e08a62" stroke="none" stroke-width="0" fill-opacity="0.75"/>
<line x1="297.00" y1="104.00" x2="337.90" y2="104.00" stroke="#777" stroke-width="1.6"/>
<line x1="307.80" y1="104.00" x2="307.80" y2="105.60" stroke="#444" stroke-width="0.7"/>
<text x="307.80" y="113.40" font-size="8.5" fill="#222" text-anchor="middle">C</text>
<line x1="328.50" y1="104.00" x2="328.50" y2="105.60" stroke="#444" stroke-width="0.7"/>
<text x="328.50" y="113.40" font-size="8.5" fill="#222" text-anchor="middle">D</text>
<line x1="304.00" y1="75.80" x2="317.00" y2="75.80" stroke="#b997cc" stroke-width="1.3"/>
<circle cx="305.00" cy="75.60" r="1.50" fill="#b997cc" stroke="none" stroke-width="0" fill-opacity="0.85"/>
<circle cx="308.00" cy="75.80" r="1.50" fill="#b997cc" stroke="none" stroke-width="0" fill-opacity="0.85"/>
<circle cx="311.00" cy="75.50" r="1.50" fill="#b997cc" stroke="none" stroke-width="0" fill-opacity="0.85"/>
<circle cx="314.00" cy="75.80" r="1.50" fill="#b997cc" stroke="none" stroke-width="0" fill-opacity="0.85"/>
<circle cx="316.00" cy="75.90" r="1.50" fill="#b997cc" stroke="none" stroke-width="0" fill-opacity="0.85"/>
<line x1="324.00" y1="75.20" x2="338.00" y2="75.20" stroke="#d5bf7c" stroke-width="1.3"/>
<circle cx="325.00" cy="75.30" r="1.60" fill="#d5bf7c" stroke="none" stroke-width="0" fill-opacity="0.85"/>
<circle cx="328.00" cy="75.60" r="1.60" fill="#d5bf7c" stroke="none" stroke-width="0" fill-opacity="0.85"/>
<circle cx="331.00" cy="75.00" r="1.60" fill="#d5bf7c" stroke="none" stroke-width="0" fill-opacity="0.85"/>
<circle cx="334.00" cy="75.40" r="1.60" fill="#d5bf7c" stroke="none" stroke-width="0" fill-opacity="0.85"/>
<circle cx="337.00" cy="74.60" r="1.60" fill="#d5bf7c" stroke="none" stroke-width="0" fill-opacity="0.85"/>
<circle cx="337.50" cy="76.20" r="1.60" fill="#d5bf7c" stroke="none" stroke-width="0" fill-opacity="0.85"/>
<line x1="234.60" y1="124.90" x2="234.60" y2="156.30" stroke="#222" stroke-width="1"/>
<line x1="232.80" y1="155.60" x2="234.60" y2="155.60" stroke="#444" stroke-width="0.7"/>
<text x="231.60" y="155.60" font-size="5.8" fill="#666" text-anchor="middle" transform="rotate(-90 231.60 155.60)">0</text>
<line x1="232.80" y1="148.10" x2="234.60" y2="148.10" stroke="#444" stroke-width="0.7"/>
<text x="231.60" y="146.90" font-size="5.8" fill="#666" text-anchor="middle" transform="rotate(-90 231.60 146.90)">2.5</text>
<line x1="232.80" y1="140.40" x2="234.60" y2="140.40" stroke="#444" stroke-width="0.7"/>
<text x="231.60" y="139.00" font-size="5.8" fill="#666" text-anchor="middle" transform="rotate(-90 231.60 139.00)">5.0</text>
<line x1="232.80" y1="132.50" x2="234.60" y2="132.50" stroke="#444" stroke-width="0.7"/>
<text x="231.60" y="129.40" font-size="5.8" fill="#666" text-anchor="middle" transform="rotate(-90 231.60 129.40)">7.5</text>
<line x1="234.60" y1="156.30" x2="278.10" y2="156.30" stroke="#222" stroke-width="1"/>
<line x1="244.10" y1="156.30" x2="244.10" y2="157.90" stroke="#444" stroke-width="0.7"/>
<text x="244.10" y="165.70" font-size="8.5" fill="#222" text-anchor="middle">A</text>
<line x1="264.20" y1="156.30" x2="264.20" y2="157.90" stroke="#444" stroke-width="0.7"/>
<text x="264.20" y="165.70" font-size="8.5" fill="#222" text-anchor="middle">B</text>
<text x="221.90" y="139.00" font-size="10" fill="#222" text-anchor="middle" transform="rotate(-90 221.90 139.00)">EC</text>
<circle cx="245.94" cy="149.44" r="1.70" fill="#7ec3d6" stroke="none" stroke-width="0" fill-opacity="0.7"/>
<circle cx="245.37" cy="151.48" r="1.70" fill="#7ec3d6" stroke="none" stroke-width="0" fill-opacity="0.7"/>
<circle cx="238.58" cy="151.75" r="1.70" fill="#7ec3d6" stroke="none" stroke-width="0" fill-opacity="0.7"/>
<circle cx="250.91" cy="153.92" r="1.70" fill="#7ec3d6" stroke="none" stroke-width="0" fill-opacity="0.7"/>
<circle cx="247.33" cy="149.50" r="1.70" fill="#7ec3d6" stroke="none" stroke-width="0" fill-opacity="0.7"/>
<circle cx="247.42" cy="151.23" r="1.70" fill="#7ec3d6" stroke="none" stroke-width="0" fill-opacity="0.7"/>
<circle cx="243.45" cy="153.55" r="1.70" fill="#7ec3d6" stroke="none" stroke-width="0" fill-opacity="0.7"/>
<circle cx="238.63" cy="152.75" r="1.70" fill="#7ec3d6" stroke="none" stroke-width="0" fill-opacity="0.7"/>
<circle cx="237.90" cy="151.41" r="1.70" fill="#7ec3d6" stroke="none" stroke-width="0" fill-opacity="0.7"/>
<circle cx="243.99" cy="148.07" r="1.70" fill="#7ec3d6" stroke="none" stroke-width="0" fill-opacity="0.7"/>
<circle cx="246.93" cy="150.48" r="1.70" fill="#7ec3d6" stroke="none" stroke-width="0" fill-opacity="0.7"/>
<circle cx="245.80" cy="154.28" r="1.70" fill="#7ec3d6" stroke="none" stroke-width="0" fill-opacity="0.7"/>
<circle cx="240.95" cy="146.10" r="1.70" fill="#7ec3d6" stroke="none" stroke-width="0" fill-opacity="0.7"/>
<circle cx="241.56" cy="152.10" r="1.70" fill="#7ec3d6" stroke="none" stroke-width="0" fill-opacity="0.7"/>
<circle cx="240.23" cy="147.53" r="1.70" fill="#7ec3d6" stroke="none" stroke-width="0" fill-opacity="0.7"/>
<circle cx="249.73" cy="151.94" r="1.70" fill="#7ec3d6" stroke="none" stroke-width="0" fill-opacity="0.7"/>
<circle cx="243.47" cy="154.03" r="1.70" fill="#7ec3d6" stroke="none" stroke-width="0" fill-opacity="0.7"/>
<circle cx="241.91" cy="151.99" r="1.70" fill="#7ec3d6" stroke="none" stroke-width="0" fill-opacity="0.7"/>
<circle cx="240.18" cy="149.88" r="1.70" fill="#7ec3d6" stroke="none" stroke-width="0" fill-opacity="0.7"/>
<circle cx="248.38" cy="154.23" r="1.70" fill="#7ec3d6" stroke="none" stroke-width="0" fill-opacity="0.7"/>
<circle cx="249.38" cy="149.46" r="1.70" fill="#7ec3d6" stroke="none" stroke-width="0" fill-opacity="0.7"/>
<circle cx="245.37" cy="148.85" r="1.70" fill="#7ec3d6" stroke="none" stroke-width="0" fill-opacity="0.7"/>
<circle cx="239.34" cy="150.47" r="1.70" fill="#7ec3d6" stroke="none" stroke-width="0" fill-opacity="0.7"/>
<circle cx="248.80" cy="153.64" r="1.70" fill="#7ec3d6" stroke="none" stroke-width="0" fill-opacity="0.7"/>
<circle cx="247.10" cy="154.55" r="1.70" fill="#7ec3d6" stroke="none" stroke-width="0" fill-opacity="0.7"/>
<circle cx="241.24" cy="147.52" r="1.70" fill="#7ec3d6" stroke="none" stroke-width="0" fill-opacity="0.7"/>
<circle cx="243.58" cy="148.48" r="1.70" fill="#7ec3d6" stroke="none" stroke-width="0" fill-opacity="0.7"/>
<circle cx="240.39" cy="149.73" r="1.70" fill="#7ec3d6" stroke="none" stroke-width="0" fill-opacity="0.7"/>
<circle cx="245.95" cy="150.44" r="1.70" fill="#7ec3d6" stroke="none" stroke-width="0" fill-opacity="0.7"/>
<circle cx="241.76" cy="153.55" r="1.70" fill="#7ec3d6" stroke="none" stroke-width="0" fill-opacity="0.7"/>
<rect x="257.50" y="142.00" width="14.50" height="4.50" fill="#dcdcdc" stroke="#e08a62" stroke-width="0.6" fill-opacity="0.7" stroke-opacity="0.5"/>
<circle cx="271.26" cy="143.94" r="1.70" fill="#e08a62" stroke="none" stroke-width="0" fill-opacity="0.75"/>
<circle cx="259.01" cy="141.20" r="1.70" fill="#e08a62" stroke="none" stroke-width="0" fill-opacity="0.75"/>
<circle cx="269.78" cy="141.27" r="1.70" fill="#e08a62" stroke="none" stroke-width="0" fill-opacity="0.75"/>
<circle cx="267.57" cy="144.71" r="1.70" fill="#e08a62" stroke="none" stroke-width="0" fill-opacity="0.75"/>
<circle cx="262.17" cy="146.14" r="1.70" fill="#e08a62" stroke="none" stroke-width="0" fill-opacity="0.75"/>
<circle cx="258.26" cy="141.88" r="1.70" fill="#e08a62" stroke="none" stroke-width="0" fill-opacity="0.75"/>
<circle cx="264.14" cy="141.16" r="1.70" fill="#e08a62" stroke="none" stroke-width="0" fill-opacity="0.75"/>
<circle cx="269.20" cy="142.54" r="1.70" fill="#e08a62" stroke="none" stroke-width="0" fill-opacity="0.75"/>
<circle cx="259.90" cy="141.31" r="1.70" fill="#e08a62" stroke="none" stroke-width="0" fill-opacity="0.75"/>
<circle cx="266.49" cy="143.90" r="1.70" fill="#e08a62" stroke="none" stroke-width="0" fill-opacity="0.75"/>
<circle cx="266.50" cy="145.26" r="1.70" fill="#e08a62" stroke="none" stroke-width="0" fill-opacity="0.75"/>
<circle cx="268.90" cy="147.23" r="1.70" fill="#e08a62" stroke="none" stroke-width="0" fill-opacity="0.75"/>
<circle cx="267.24" cy="142.30" r="1.70" fill="#e08a62" stroke="none" stroke-width="0" fill-opacity="0.75"/>
<circle cx="264.41" cy="142.16" r="1.70" fill="#e08a62" stroke="none" stroke-width="0" fill-opacity="0.75"/>
<circle cx="258.15" cy="144.07" r="1.70" fill="#e08a62" stroke="none" stroke-width="0" fill-opacity="0.75"/>
<circle cx="267.64" cy="142.16" r="1.70" fill="#e08a62" stroke="none" stroke-width="0" fill-opacity="0.75"/>
<circle cx="261.68" cy="143.25" r="1.70" fill="#e08a62" stroke="none" stroke-width="0" fill-opacity="0.75"/>
<circle cx="267.41" cy="144.38" r="1.70" fill="#e08a62" stroke="none" stroke-width="0" fill-opacity="0.75"/>
<circle cx="266.30" cy="145.92" r="1.70" fill="#e08a62" stroke="none" stroke-width="0" fill-opacity="0.75"/>
<circle cx="263.31" cy="146.15" r="1.70" fill="#e08a62" stroke="none" stroke-width="0" fill-opacity="0.75"/>
<circle cx="270.23" cy="141.57" r="1.70" fill="#e08a62" stroke="none" stroke-width="0" fill-opacity="0.75"/>
<circle cx="270.59" cy="145.70" r="1.70" fill="#e08a62" stroke="none" stroke-width="0" fill-opacity="0.75"/>
<circle cx="259.75" cy="143.95" r="1.70" fill="#e08a62" stroke="none" stroke-width="0" fill-opacity="0.75"/>
<circle cx="266.44" cy="146.91" r="1.70" fill="#e08a62" stroke="none" stroke-width="0" fill-opacity="0.75"/>
<circle cx="263.09" cy="144.70" r="1.70" fill="#e08a62" stroke="none" stroke-width="0" fill-opacity="0.75"/>
<circle cx="269.87" cy="146.18" r="1.70" fill="#e08a62" stroke="none" stroke-width="0" fill-opacity="0.75"/>
<circle cx="265.50" cy="126.00" r="1.70" fill="#e08a62" stroke="none" stroke-width="0" fill-opacity="0.75"/>
<circle cx="262.50" cy="129.00" r="1.70" fill="#e08a62" stroke="none" stroke-width="0" fill-opacity="0.75"/>
<circle cx="264.50" cy="130.00" r="1.70" fill="#e08a62" stroke="none" stroke-width="0" fill-opacity="0.75"/>
<circle cx="267.00" cy="129.50" r="1.70" fill="#e08a62" stroke="none" stroke-width="0" fill-opacity="0.75"/>
<circle cx="260.00" cy="133.00" r="1.70" fill="#e08a62" stroke="none" stroke-width="0" fill-opacity="0.75"/>
<circle cx="266.00" cy="136.00" r="1.70" fill="#e08a62" stroke="none" stroke-width="0" fill-opacity="0.75"/>
<circle cx="261.50" cy="137.50" r="1.70" fill="#e08a62" stroke="none" stroke-width="0" fill-opacity="0.75"/>
<circle cx="267.00" cy="140.00" r="1.70" fill="#e08a62" stroke="none" stroke-width="0" fill-opacity="0.75"/>
<line x1="300.40" y1="124.90" x2="300.40" y2="156.20" stroke="#222" stroke-width="1"/>
<line x1="298.60" y1="154.30" x2="300.40" y2="154.30" stroke="#444" stroke-width="0.7"/>
<text x="297.40" y="156.60" font-size="5.8" fill="#666" text-anchor="middle" transform="rotate(-90 297.40 156.60)">2.5</text>
<line x1="298.60" y1="147.50" x2="300.40" y2="147.50" stroke="#444" stroke-width="0.7"/>
<text x="297.40" y="145.90" font-size="5.8" fill="#666" text-anchor="middle" transform="rotate(-90 297.40 145.90)">3.0</text>
<line x1="298.60" y1="139.40" x2="300.40" y2="139.40" stroke="#444" stroke-width="0.7"/>
<text x="297.40" y="137.60" font-size="5.8" fill="#666" text-anchor="middle" transform="rotate(-90 297.40 137.60)">3.5</text>
<line x1="298.60" y1="132.30" x2="300.40" y2="132.30" stroke="#444" stroke-width="0.7"/>
<text x="297.40" y="128.90" font-size="5.8" fill="#666" text-anchor="middle" transform="rotate(-90 297.40 128.90)">4.0</text>
<line x1="300.40" y1="156.20" x2="340.20" y2="156.20" stroke="#222" stroke-width="1"/>
<line x1="311.80" y1="156.20" x2="311.80" y2="157.80" stroke="#444" stroke-width="0.7"/>
<text x="311.80" y="165.60" font-size="8.5" fill="#222" text-anchor="middle">C</text>
<line x1="330.20" y1="156.20" x2="330.20" y2="157.80" stroke="#444" stroke-width="0.7"/>
<text x="330.20" y="165.60" font-size="8.5" fill="#222" text-anchor="middle">D</text>
<text x="291.10" y="141.20" font-size="9.5" fill="#222" text-anchor="middle" transform="rotate(-90 291.10 141.20)">pH</text>
<rect x="304.00" y="152.10" width="14.60" height="3.80" fill="#d8c8e0" stroke="#b997cc" stroke-width="0.6" fill-opacity="0.9" stroke-opacity="0.5"/>
<circle cx="314.10" cy="149.50" r="1.50" fill="#b997cc" stroke="none" stroke-width="0" fill-opacity="0.85"/>
<circle cx="306.00" cy="154.50" r="1.50" fill="#b997cc" stroke="none" stroke-width="0" fill-opacity="0.85"/>
<circle cx="310.50" cy="155.00" r="1.50" fill="#b997cc" stroke="none" stroke-width="0" fill-opacity="0.85"/>
<circle cx="315.50" cy="155.00" r="1.50" fill="#b997cc" stroke="none" stroke-width="0" fill-opacity="0.85"/>
<rect x="324.40" y="127.30" width="12.80" height="5.20" fill="#dcdcdc" stroke="#d5bf7c" stroke-width="0.6" fill-opacity="0.9" stroke-opacity="0.5"/>
<circle cx="325.00" cy="127.80" r="1.60" fill="#d5bf7c" stroke="none" stroke-width="0" fill-opacity="0.85"/>
<circle cx="330.50" cy="127.50" r="1.60" fill="#d5bf7c" stroke="none" stroke-width="0" fill-opacity="0.85"/>
<circle cx="336.50" cy="126.50" r="1.60" fill="#d5bf7c" stroke="none" stroke-width="0" fill-opacity="0.85"/>
<circle cx="325.50" cy="133.50" r="1.60" fill="#d5bf7c" stroke="none" stroke-width="0" fill-opacity="0.85"/>
<circle cx="333.00" cy="128.00" r="1.60" fill="#d5bf7c" stroke="none" stroke-width="0" fill-opacity="0.85"/>
<line x1="373.00" y1="83.50" x2="373.00" y2="157.00" stroke="#222" stroke-width="1"/>
<line x1="371.20" y1="153.20" x2="373.00" y2="153.20" stroke="#444" stroke-width="0.7"/>
<text x="370.20" y="153.20" font-size="7.8" fill="#666" text-anchor="middle" transform="rotate(-90 370.20 153.20)">4</text>
<line x1="371.20" y1="141.58" x2="373.00" y2="141.58" stroke="#444" stroke-width="0.7"/>
<text x="370.20" y="141.58" font-size="7.8" fill="#666" text-anchor="middle" transform="rotate(-90 370.20 141.58)">5</text>
<line x1="371.20" y1="129.96" x2="373.00" y2="129.96" stroke="#444" stroke-width="0.7"/>
<text x="370.20" y="129.96" font-size="7.8" fill="#666" text-anchor="middle" transform="rotate(-90 370.20 129.96)">6</text>
<line x1="371.20" y1="118.34" x2="373.00" y2="118.34" stroke="#444" stroke-width="0.7"/>
<text x="370.20" y="118.34" font-size="7.8" fill="#666" text-anchor="middle" transform="rotate(-90 370.20 118.34)">7</text>
<line x1="371.20" y1="106.72" x2="373.00" y2="106.72" stroke="#444" stroke-width="0.7"/>
<text x="370.20" y="106.72" font-size="7.8" fill="#666" text-anchor="middle" transform="rotate(-90 370.20 106.72)">8</text>
<line x1="371.20" y1="95.10" x2="373.00" y2="95.10" stroke="#444" stroke-width="0.7"/>
<text x="370.20" y="95.10" font-size="7.8" fill="#666" text-anchor="middle" transform="rotate(-90 370.20 95.10)">9</text>
<line x1="373.00" y1="157.00" x2="412.30" y2="157.00" stroke="#222" stroke-width="1"/>
<line x1="383.30" y1="157.00" x2="383.30" y2="158.60" stroke="#444" stroke-width="0.7"/>
<text x="383.30" y="166.40" font-size="8.5" fill="#222" text-anchor="middle">E</text>
<line x1="400.40" y1="157.00" x2="400.40" y2="158.60" stroke="#444" stroke-width="0.7"/>
<text x="400.40" y="166.40" font-size="8.5" fill="#222" text-anchor="middle">F</text>
<text x="361.10" y="125.70" font-size="11" fill="#222" text-anchor="middle" transform="rotate(-90 361.10 125.70)">Pb</text>
<line x1="383.25" y1="87.30" x2="383.25" y2="95.10" stroke="#d9a0a8" stroke-width="0.8"/>
<line x1="383.25" y1="112.00" x2="383.25" y2="119.40" stroke="#d9a0a8" stroke-width="0.8"/>
<rect x="376.00" y="95.10" width="14.50" height="16.90" fill="#dcdcdc" stroke="#d9a0a8" stroke-width="0.8" fill-opacity="0.85" stroke-opacity="0.6"/>
<line x1="376.00" y1="103.50" x2="390.50" y2="103.50" stroke="#c98d95" stroke-width="2.4"/>
<circle cx="380.40" cy="87.00" r="1.70" fill="#a34f5e" stroke="none" stroke-width="0" fill-opacity="0.85"/>
<circle cx="385.90" cy="120.20" r="1.70" fill="#a34f5e" stroke="none" stroke-width="0" fill-opacity="0.85"/>
<line x1="401.00" y1="132.50" x2="401.00" y2="136.10" stroke="#a9b4bf" stroke-width="0.8"/>
<line x1="401.00" y1="150.10" x2="401.00" y2="154.00" stroke="#a9b4bf" stroke-width="0.8"/>
<rect x="394.00" y="136.10" width="14.00" height="14.00" fill="#dcdcdc" stroke="#a9b4bf" stroke-width="0.8" fill-opacity="0.85" stroke-opacity="0.6"/>
<line x1="394.00" y1="142.10" x2="408.00" y2="142.10" stroke="#8796a6" stroke-width="2.4"/>
<circle cx="403.30" cy="132.20" r="1.60" fill="#4f667d" stroke="none" stroke-width="0" fill-opacity="0.85"/>
<circle cx="401.60" cy="135.60" r="1.60" fill="#4f667d" stroke="none" stroke-width="0" fill-opacity="0.85"/>
<circle cx="400.40" cy="139.50" r="1.60" fill="#4f667d" stroke="none" stroke-width="0" fill-opacity="0.85"/>
<circle cx="403.30" cy="145.00" r="1.60" fill="#4f667d" stroke="none" stroke-width="0" fill-opacity="0.85"/>
<circle cx="404.30" cy="153.50" r="1.60" fill="#4f667d" stroke="none" stroke-width="0" fill-opacity="0.85"/>
<circle cx="405.00" cy="154.40" r="1.60" fill="#4f667d" stroke="none" stroke-width="0" fill-opacity="0.85"/>
<text x="222.00" y="193.10" font-size="13.5" fill="#111" text-anchor="start" font-weight="bold">c</text>
<rect x="249.30" y="189.50" width="160.30" height="13.90" fill="#d2d3d5" stroke="#444" stroke-width="1.2"/>
<line x1="249.30" y1="203.40" x2="249.30" y2="323.40" stroke="#555" stroke-width="1.2"/>
<line x1="409.60" y1="203.40" x2="409.60" y2="323.40" stroke="#555" stroke-width="1.2"/>
<line x1="249.30" y1="323.40" x2="409.60" y2="323.40" stroke="#555" stroke-width="1.2"/>
<text x="332.30" y="199.00" font-size="8.1" fill="#111" text-anchor="middle" font-weight="bold">Prokaryotic composition</text>
<line x1="247.00" y1="322.50" x2="249.30" y2="322.50" stroke="#555" stroke-width="0.8"/>
<text x="245.40" y="325.30" font-size="7.7" fill="#666" text-anchor="end">0.00</text>
<line x1="247.00" y1="293.68" x2="249.30" y2="293.68" stroke="#555" stroke-width="0.8"/>
<text x="245.40" y="296.48" font-size="7.7" fill="#666" text-anchor="end">0.25</text>
<line x1="247.00" y1="264.85" x2="249.30" y2="264.85" stroke="#555" stroke-width="0.8"/>
<text x="245.40" y="267.65" font-size="7.7" fill="#666" text-anchor="end">0.50</text>
<line x1="247.00" y1="236.02" x2="249.30" y2="236.02" stroke="#555" stroke-width="0.8"/>
<text x="245.40" y="238.82" font-size="7.7" fill="#666" text-anchor="end">0.75</text>
<line x1="247.00" y1="207.20" x2="249.30" y2="207.20" stroke="#555" stroke-width="0.8"/>
<text x="245.40" y="210.00" font-size="7.7" fill="#666" text-anchor="end">1.00</text>
<line x1="264.95" y1="323.40" x2="264.95" y2="325.40" stroke="#555" stroke-width="0.8"/>
<text x="264.95" y="333.20" font-size="9" fill="#222" text-anchor="middle">A</text>
<line x1="290.95" y1="323.40" x2="290.95" y2="325.40" stroke="#555" stroke-width="0.8"/>
<text x="290.95" y="333.20" font-size="9" fill="#222" text-anchor="middle">B</text>
<line x1="316.65" y1="323.40" x2="316.65" y2="325.40" stroke="#555" stroke-width="0.8"/>
<text x="316.65" y="333.20" font-size="9" fill="#222" text-anchor="middle">C</text>
<line x1="342.15" y1="323.40" x2="342.15" y2="325.40" stroke="#555" stroke-width="0.8"/>
<text x="342.15" y="333.20" font-size="9" fill="#222" text-anchor="middle">D</text>
<line x1="367.95" y1="323.40" x2="367.95" y2="325.40" stroke="#555" stroke-width="0.8"/>
<text x="367.95" y="333.20" font-size="9" fill="#222" text-anchor="middle">E</text>
<line x1="393.85" y1="323.40" x2="393.85" y2="325.40" stroke="#555" stroke-width="0.8"/>
<text x="393.85" y="333.20" font-size="9" fill="#222" text-anchor="middle">F</text>
<text x="226.20" y="264.85" font-size="11" fill="#222" text-anchor="middle" transform="rotate(-90 226.20 264.85)">Relative abundance</text>
<rect x="257.00" y="207.00" width="15.90" height="115.50" fill="#7bbde8" stroke="none" stroke-width="1"/>
<rect x="257.00" y="208.30" width="15.90" height="114.20" fill="#dfbb93" stroke="none" stroke-width="1"/>
<rect x="257.00" y="213.60" width="15.90" height="108.90" fill="#787e81" stroke="none" stroke-width="1"/>
<rect x="257.00" y="222.90" width="15.90" height="99.60" fill="#84c4a6" stroke="none" stroke-width="1"/>
<rect x="257.00" y="228.00" width="15.90" height="94.50" fill="#c98592" stroke="none" stroke-width="1"/>
<rect x="257.00" y="303.90" width="15.90" height="18.60" fill="#c09aa6" stroke="none" stroke-width="1"/>
<rect x="257.00" y="321.80" width="15.90" height="0.70" fill="#ab7dc7" stroke="none" stroke-width="1"/>
<rect x="283.00" y="207.00" width="15.90" height="115.50" fill="#85aab9" stroke="none" stroke-width="1"/>
<rect x="283.00" y="209.80" width="15.90" height="112.70" fill="#787e81" stroke="none" stroke-width="1"/>
<rect x="283.00" y="211.70" width="15.90" height="110.80" fill="#84c4a6" stroke="none" stroke-width="1"/>
<rect x="283.00" y="215.20" width="15.90" height="107.30" fill="#c98592" stroke="none" stroke-width="1"/>
<rect x="283.00" y="266.50" width="15.90" height="56.00" fill="#c09aa6" stroke="none" stroke-width="1"/>
<rect x="308.70" y="207.60" width="15.90" height="114.90" fill="#84c4a6" stroke="none" stroke-width="1"/>
<rect x="308.70" y="210.50" width="15.90" height="112.00" fill="#c98592" stroke="none" stroke-width="1"/>
<rect x="308.70" y="308.40" width="15.90" height="14.10" fill="#c09aa6" stroke="none" stroke-width="1"/>
<rect x="334.20" y="207.00" width="15.90" height="115.50" fill="#5b7796" stroke="none" stroke-width="1"/>
<rect x="334.20" y="211.70" width="15.90" height="110.80" fill="#dfbb93" stroke="none" stroke-width="1"/>
<rect x="334.20" y="220.60" width="15.90" height="101.90" fill="#787e81" stroke="none" stroke-width="1"/>
<rect x="334.20" y="311.10" width="15.90" height="11.40" fill="#84c4a6" stroke="none" stroke-width="1"/>
<rect x="334.20" y="312.00" width="15.90" height="10.50" fill="#9c6aa0" stroke="none" stroke-width="1"/>
<rect x="334.20" y="314.90" width="15.90" height="7.60" fill="#c98592" stroke="none" stroke-width="1"/>
<rect x="334.20" y="317.50" width="15.90" height="5.00" fill="#c09aa6" stroke="none" stroke-width="1"/>
<rect x="334.20" y="319.70" width="15.90" height="2.80" fill="#ab7dc7" stroke="none" stroke-width="1"/>
<rect x="360.00" y="207.50" width="15.90" height="115.00" fill="#dfbb93" stroke="none" stroke-width="1"/>
<rect x="360.00" y="224.50" width="15.90" height="98.00" fill="#787e81" stroke="none" stroke-width="1"/>
<rect x="360.00" y="230.80" width="15.90" height="91.70" fill="#84c4a6" stroke="none" stroke-width="1"/>
<rect x="360.00" y="236.20" width="15.90" height="86.30" fill="#c98592" stroke="none" stroke-width="1"/>
<rect x="385.90" y="207.80" width="15.90" height="114.70" fill="#5b7796" stroke="none" stroke-width="1"/>
<rect x="385.90" y="209.30" width="15.90" height="113.20" fill="#dfbb93" stroke="none" stroke-width="1"/>
<rect x="385.90" y="221.50" width="15.90" height="101.00" fill="#787e81" stroke="none" stroke-width="1"/>
<rect x="385.90" y="278.00" width="15.90" height="44.50" fill="#84c4a6" stroke="none" stroke-width="1"/>
<rect x="385.90" y="316.80" width="15.90" height="5.70" fill="#c98592" stroke="none" stroke-width="1"/>
<rect x="385.90" y="318.40" width="15.90" height="4.10" fill="#c09aa6" stroke="none" stroke-width="1"/>
<text x="222.00" y="351.80" font-size="13.5" fill="#111" text-anchor="start" font-weight="bold">d</text>
<rect x="249.30" y="346.50" width="160.30" height="14.00" fill="#d2d3d5" stroke="#444" stroke-width="1.2"/>
<line x1="249.30" y1="360.50" x2="249.30" y2="480.20" stroke="#555" stroke-width="1.2"/>
<line x1="409.60" y1="360.50" x2="409.60" y2="480.20" stroke="#555" stroke-width="1.2"/>
<line x1="249.30" y1="480.20" x2="409.60" y2="480.20" stroke="#555" stroke-width="1.2"/>
<text x="329.50" y="356.10" font-size="8.1" fill="#111" text-anchor="middle" font-weight="bold">Viral composition</text>
<line x1="247.00" y1="475.00" x2="249.30" y2="475.00" stroke="#555" stroke-width="0.8"/>
<text x="245.40" y="477.80" font-size="7.7" fill="#666" text-anchor="end">0.00</text>
<line x1="247.00" y1="447.75" x2="249.30" y2="447.75" stroke="#555" stroke-width="0.8"/>
<text x="245.40" y="450.55" font-size="7.7" fill="#666" text-anchor="end">0.25</text>
<line x1="247.00" y1="420.50" x2="249.30" y2="420.50" stroke="#555" stroke-width="0.8"/>
<text x="245.40" y="423.30" font-size="7.7" fill="#666" text-anchor="end">0.50</text>
<line x1="247.00" y1="393.25" x2="249.30" y2="393.25" stroke="#555" stroke-width="0.8"/>
<text x="245.40" y="396.05" font-size="7.7" fill="#666" text-anchor="end">0.75</text>
<line x1="247.00" y1="366.00" x2="249.30" y2="366.00" stroke="#555" stroke-width="0.8"/>
<text x="245.40" y="368.80" font-size="7.7" fill="#666" text-anchor="end">1.00</text>
<line x1="264.95" y1="480.20" x2="264.95" y2="482.20" stroke="#555" stroke-width="0.8"/>
<text x="264.95" y="490.00" font-size="9" fill="#222" text-anchor="middle">A</text>
<line x1="290.95" y1="480.20" x2="290.95" y2="482.20" stroke="#555" stroke-width="0.8"/>
<text x="290.95" y="490.00" font-size="9" fill="#222" text-anchor="middle">B</text>
<line x1="316.65" y1="480.20" x2="316.65" y2="482.20" stroke="#555" stroke-width="0.8"/>
<text x="316.65" y="490.00" font-size="9" fill="#222" text-anchor="middle">C</text>
<line x1="342.15" y1="480.20" x2="342.15" y2="482.20" stroke="#555" stroke-width="0.8"/>
<text x="342.15" y="490.00" font-size="9" fill="#222" text-anchor="middle">D</text>
<line x1="367.95" y1="480.20" x2="367.95" y2="482.20" stroke="#555" stroke-width="0.8"/>
<text x="367.95" y="490.00" font-size="9" fill="#222" text-anchor="middle">E</text>
<line x1="393.85" y1="480.20" x2="393.85" y2="482.20" stroke="#555" stroke-width="0.8"/>
<text x="393.85" y="490.00" font-size="9" fill="#222" text-anchor="middle">F</text>
<text x="226.20" y="420.50" font-size="11" fill="#222" text-anchor="middle" transform="rotate(-90 226.20 420.50)">Relative abundance</text>
<rect x="257.00" y="366.00" width="15.90" height="109.00" fill="#5b7796" stroke="none" stroke-width="1"/>
<rect x="257.00" y="378.60" width="15.90" height="96.40" fill="#85aab9" stroke="none" stroke-width="1"/>
<rect x="257.00" y="383.90" width="15.90" height="91.10" fill="#dfbb93" stroke="none" stroke-width="1"/>
<rect x="257.00" y="387.90" width="15.90" height="87.10" fill="#787e81" stroke="none" stroke-width="1"/>
<rect x="257.00" y="393.30" width="15.90" height="81.70" fill="#84c4a6" stroke="none" stroke-width="1"/>
<rect x="257.00" y="403.10" width="15.90" height="71.90" fill="#c98592" stroke="none" stroke-width="1"/>
<rect x="257.00" y="468.20" width="15.90" height="6.80" fill="#c09aa6" stroke="none" stroke-width="1"/>
<rect x="283.00" y="366.00" width="15.90" height="109.00" fill="#5b7796" stroke="none" stroke-width="1"/>
<rect x="283.00" y="375.50" width="15.90" height="99.50" fill="#85aab9" stroke="none" stroke-width="1"/>
<rect x="283.00" y="385.60" width="15.90" height="89.40" fill="#787e81" stroke="none" stroke-width="1"/>
<rect x="283.00" y="388.40" width="15.90" height="86.60" fill="#84c4a6" stroke="none" stroke-width="1"/>
<rect x="283.00" y="397.20" width="15.90" height="77.80" fill="#c98592" stroke="none" stroke-width="1"/>
<rect x="283.00" y="444.90" width="15.90" height="30.10" fill="#c09aa6" stroke="none" stroke-width="1"/>
<rect x="308.70" y="366.00" width="15.90" height="109.00" fill="#85aab9" stroke="none" stroke-width="1"/>
<rect x="308.70" y="369.90" width="15.90" height="105.10" fill="#dfbb93" stroke="none" stroke-width="1"/>
<rect x="308.70" y="375.00" width="15.90" height="100.00" fill="#787e81" stroke="none" stroke-width="1"/>
<rect x="308.70" y="377.90" width="15.90" height="97.10" fill="#84c4a6" stroke="none" stroke-width="1"/>
<rect x="308.70" y="403.10" width="15.90" height="71.90" fill="#c98592" stroke="none" stroke-width="1"/>
<rect x="308.70" y="466.10" width="15.90" height="8.90" fill="#c09aa6" stroke="none" stroke-width="1"/>
<rect x="334.20" y="366.00" width="15.90" height="109.00" fill="#5b7796" stroke="none" stroke-width="1"/>
<rect x="334.20" y="406.10" width="15.90" height="68.90" fill="#dfbb93" stroke="none" stroke-width="1"/>
<rect x="334.20" y="412.40" width="15.90" height="62.60" fill="#787e81" stroke="none" stroke-width="1"/>
<rect x="334.20" y="448.40" width="15.90" height="26.60" fill="#84c4a6" stroke="none" stroke-width="1"/>
<rect x="334.20" y="453.60" width="15.90" height="21.40" fill="#9c6aa0" stroke="none" stroke-width="1"/>
<rect x="334.20" y="456.70" width="15.90" height="18.30" fill="#c98592" stroke="none" stroke-width="1"/>
<rect x="334.20" y="462.10" width="15.90" height="12.90" fill="#c09aa6" stroke="none" stroke-width="1"/>
<rect x="334.20" y="472.00" width="15.90" height="3.00" fill="#ab7dc7" stroke="none" stroke-width="1"/>
<rect x="360.00" y="366.00" width="15.90" height="109.00" fill="#5b7796" stroke="none" stroke-width="1"/>
<rect x="360.00" y="376.90" width="15.90" height="98.10" fill="#85aab9" stroke="none" stroke-width="1"/>
<rect x="360.00" y="396.10" width="15.90" height="78.90" fill="#84c4a6" stroke="none" stroke-width="1"/>
<rect x="360.00" y="397.20" width="15.90" height="77.80" fill="#c98592" stroke="none" stroke-width="1"/>
<rect x="385.90" y="366.00" width="15.90" height="109.00" fill="#5b7796" stroke="none" stroke-width="1"/>
<rect x="385.90" y="383.70" width="15.90" height="91.30" fill="#dfbb93" stroke="none" stroke-width="1"/>
<rect x="385.90" y="387.90" width="15.90" height="87.10" fill="#787e81" stroke="none" stroke-width="1"/>
<rect x="385.90" y="434.60" width="15.90" height="40.40" fill="#84c4a6" stroke="none" stroke-width="1"/>
<rect x="385.90" y="461.10" width="15.90" height="13.90" fill="#92d1b6" stroke="none" stroke-width="1"/>
<rect x="385.90" y="465.20" width="15.90" height="9.80" fill="#9c6aa0" stroke="none" stroke-width="1"/>
<rect x="385.90" y="467.00" width="15.90" height="8.00" fill="#c98592" stroke="none" stroke-width="1"/>
<text x="443.60" y="10.30" font-size="14" fill="#111" text-anchor="start" font-weight="bold">e</text>
<line x1="534.90" y1="15.10" x2="534.90" y2="172.30" stroke="#9e9e9e" stroke-width="1.7" stroke-dasharray="9.1 9.4"/>
<line x1="451.50" y1="112.70" x2="617.30" y2="112.70" stroke="#9e9e9e" stroke-width="1.7" stroke-dasharray="9.2 9.3"/>
<circle cx="527.60" cy="18.80" r="1.55" fill="#d5bf7c" stroke="none" stroke-width="0" fill-opacity="0.9"/>
<circle cx="521.80" cy="27.70" r="1.55" fill="#d5bf7c" stroke="none" stroke-width="0" fill-opacity="0.9"/>
<circle cx="520.70" cy="30.60" r="1.55" fill="#d5bf7c" stroke="none" stroke-width="0" fill-opacity="0.9"/>
<circle cx="520.20" cy="32.80" r="1.55" fill="#d5bf7c" stroke="none" stroke-width="0" fill-opacity="0.9"/>
<circle cx="514.20" cy="42.90" r="1.55" fill="#d5bf7c" stroke="none" stroke-width="0" fill-opacity="0.9"/>
<circle cx="535.90" cy="39.70" r="1.55" fill="#7ec3d6" stroke="none" stroke-width="0" fill-opacity="0.9"/>
<circle cx="466.10" cy="73.10" r="1.55" fill="#7ec3d6" stroke="none" stroke-width="0" fill-opacity="0.9"/>
<circle cx="517.80" cy="80.70" r="1.55" fill="#7ec3d6" stroke="none" stroke-width="0" fill-opacity="0.9"/>
<circle cx="529.20" cy="87.10" r="1.55" fill="#7ec3d6" stroke="none" stroke-width="0" fill-opacity="0.9"/>
<circle cx="535.10" cy="87.40" r="1.55" fill="#7ec3d6" stroke="none" stroke-width="0" fill-opacity="0.9"/>
<circle cx="543.10" cy="85.00" r="1.55" fill="#7ec3d6" stroke="none" stroke-width="0" fill-opacity="0.9"/>
<circle cx="518.60" cy="58.20" r="1.55" fill="#e08a62" stroke="none" stroke-width="0" fill-opacity="0.9"/>
<circle cx="546.40" cy="68.30" r="1.55" fill="#e08a62" stroke="none" stroke-width="0" fill-opacity="0.9"/>
<circle cx="552.00" cy="84.40" r="1.55" fill="#e08a62" stroke="none" stroke-width="0" fill-opacity="0.9"/>
<circle cx="554.40" cy="84.70" r="1.55" fill="#e08a62" stroke="none" stroke-width="0" fill-opacity="0.9"/>
<circle cx="534.60" cy="88.70" r="1.55" fill="#e08a62" stroke="none" stroke-width="0" fill-opacity="0.9"/>
<circle cx="550.00" cy="61.10" r="1.55" fill="#a34f5e" stroke="none" stroke-width="0" fill-opacity="0.9"/>
<circle cx="459.20" cy="57.40" r="1.55" fill="#4f667d" stroke="none" stroke-width="0" fill-opacity="0.9"/>
<circle cx="464.50" cy="68.30" r="1.55" fill="#4f667d" stroke="none" stroke-width="0" fill-opacity="0.9"/>
<circle cx="468.50" cy="70.20" r="1.55" fill="#4f667d" stroke="none" stroke-width="0" fill-opacity="0.9"/>
<circle cx="473.30" cy="71.30" r="1.55" fill="#4f667d" stroke="none" stroke-width="0" fill-opacity="0.9"/>
<circle cx="475.40" cy="84.20" r="1.55" fill="#4f667d" stroke="none" stroke-width="0" fill-opacity="0.9"/>
<circle cx="562.60" cy="69.20" r="1.55" fill="#7ec3d6" stroke="none" stroke-width="0" fill-opacity="0.9"/>
<circle cx="568.70" cy="71.30" r="1.55" fill="#7ec3d6" stroke="none" stroke-width="0" fill-opacity="0.9"/>
<circle cx="578.60" cy="79.50" r="1.55" fill="#e08a62" stroke="none" stroke-width="0" fill-opacity="0.9"/>
<circle cx="515.80" cy="95.80" r="1.55" fill="#7ec3d6" stroke="none" stroke-width="0" fill-opacity="0.9"/>
<circle cx="517.70" cy="100.70" r="1.55" fill="#7ec3d6" stroke="none" stroke-width="0" fill-opacity="0.9"/>
<circle cx="518.20" cy="112.70" r="1.55" fill="#7ec3d6" stroke="none" stroke-width="0" fill-opacity="0.9"/>
<circle cx="520.30" cy="115.00" r="1.55" fill="#7ec3d6" stroke="none" stroke-width="0" fill-opacity="0.9"/>
<circle cx="533.10" cy="110.40" r="1.55" fill="#7ec3d6" stroke="none" stroke-width="0" fill-opacity="0.9"/>
<circle cx="536.50" cy="109.20" r="1.55" fill="#7ec3d6" stroke="none" stroke-width="0" fill-opacity="0.9"/>
<circle cx="474.30" cy="138.50" r="1.55" fill="#7ec3d6" stroke="none" stroke-width="0" fill-opacity="0.9"/>
<circle cx="468.20" cy="140.80" r="1.55" fill="#7ec3d6" stroke="none" stroke-width="0" fill-opacity="0.9"/>
<circle cx="464.20" cy="143.20" r="1.55" fill="#7ec3d6" stroke="none" stroke-width="0" fill-opacity="0.9"/>
<circle cx="488.20" cy="143.20" r="1.55" fill="#7ec3d6" stroke="none" stroke-width="0" fill-opacity="0.9"/>
<circle cx="489.20" cy="145.80" r="1.55" fill="#7ec3d6" stroke="none" stroke-width="0" fill-opacity="0.9"/>
<circle cx="481.50" cy="148.80" r="1.55" fill="#7ec3d6" stroke="none" stroke-width="0" fill-opacity="0.9"/>
<circle cx="483.50" cy="148.50" r="1.55" fill="#7ec3d6" stroke="none" stroke-width="0" fill-opacity="0.9"/>
<circle cx="493.40" cy="147.80" r="1.55" fill="#7ec3d6" stroke="none" stroke-width="0" fill-opacity="0.9"/>
<circle cx="495.70" cy="148.80" r="1.55" fill="#7ec3d6" stroke="none" stroke-width="0" fill-opacity="0.9"/>
<circle cx="493.10" cy="153.50" r="1.55" fill="#7ec3d6" stroke="none" stroke-width="0" fill-opacity="0.9"/>
<circle cx="516.50" cy="144.70" r="1.55" fill="#7ec3d6" stroke="none" stroke-width="0" fill-opacity="0.9"/>
<circle cx="483.10" cy="159.30" r="1.55" fill="#7ec3d6" stroke="none" stroke-width="0" fill-opacity="0.9"/>
<circle cx="490.00" cy="159.90" r="1.55" fill="#7ec3d6" stroke="none" stroke-width="0" fill-opacity="0.9"/>
<circle cx="503.80" cy="158.80" r="1.55" fill="#7ec3d6" stroke="none" stroke-width="0" fill-opacity="0.9"/>
<circle cx="495.10" cy="164.70" r="1.55" fill="#7ec3d6" stroke="none" stroke-width="0" fill-opacity="0.9"/>
<circle cx="526.90" cy="93.90" r="1.55" fill="#e08a62" stroke="none" stroke-width="0" fill-opacity="0.9"/>
<circle cx="533.80" cy="113.80" r="1.55" fill="#e08a62" stroke="none" stroke-width="0" fill-opacity="0.9"/>
<circle cx="535.80" cy="135.00" r="1.55" fill="#e08a62" stroke="none" stroke-width="0" fill-opacity="0.9"/>
<circle cx="538.20" cy="137.60" r="1.55" fill="#e08a62" stroke="none" stroke-width="0" fill-opacity="0.9"/>
<circle cx="539.50" cy="140.70" r="1.55" fill="#e08a62" stroke="none" stroke-width="0" fill-opacity="0.9"/>
<circle cx="478.20" cy="152.70" r="1.55" fill="#a34f5e" stroke="none" stroke-width="0" fill-opacity="0.9"/>
<circle cx="468.00" cy="163.80" r="1.55" fill="#b997cc" stroke="none" stroke-width="0" fill-opacity="0.9"/>
<circle cx="606.90" cy="91.20" r="1.55" fill="#4f667d" stroke="none" stroke-width="0" fill-opacity="0.9"/>
<circle cx="594.60" cy="100.70" r="1.55" fill="#b997cc" stroke="none" stroke-width="0" fill-opacity="0.9"/>
<circle cx="587.40" cy="119.60" r="1.55" fill="#b997cc" stroke="none" stroke-width="0" fill-opacity="0.9"/>
<circle cx="555.40" cy="101.20" r="1.55" fill="#7ec3d6" stroke="none" stroke-width="0" fill-opacity="0.9"/>
<circle cx="576.90" cy="101.90" r="1.55" fill="#7ec3d6" stroke="none" stroke-width="0" fill-opacity="0.9"/>
<circle cx="549.50" cy="120.10" r="1.55" fill="#7ec3d6" stroke="none" stroke-width="0" fill-opacity="0.9"/>
<circle cx="565.70" cy="122.20" r="1.55" fill="#7ec3d6" stroke="none" stroke-width="0" fill-opacity="0.9"/>
<circle cx="567.70" cy="124.70" r="1.55" fill="#7ec3d6" stroke="none" stroke-width="0" fill-opacity="0.9"/>
<circle cx="589.70" cy="118.10" r="1.55" fill="#7ec3d6" stroke="none" stroke-width="0" fill-opacity="0.9"/>
<circle cx="543.80" cy="133.90" r="1.55" fill="#7ec3d6" stroke="none" stroke-width="0" fill-opacity="0.9"/>
<circle cx="550.00" cy="147.30" r="1.55" fill="#7ec3d6" stroke="none" stroke-width="0" fill-opacity="0.9"/>
<circle cx="564.20" cy="97.30" r="1.55" fill="#e08a62" stroke="none" stroke-width="0" fill-opacity="0.9"/>
<circle cx="557.70" cy="104.70" r="1.55" fill="#e08a62" stroke="none" stroke-width="0" fill-opacity="0.9"/>
<circle cx="547.40" cy="108.80" r="1.55" fill="#e08a62" stroke="none" stroke-width="0" fill-opacity="0.9"/>
<circle cx="561.20" cy="109.20" r="1.55" fill="#e08a62" stroke="none" stroke-width="0" fill-opacity="0.9"/>
<circle cx="566.90" cy="108.10" r="1.55" fill="#e08a62" stroke="none" stroke-width="0" fill-opacity="0.9"/>
<circle cx="564.60" cy="117.30" r="1.55" fill="#e08a62" stroke="none" stroke-width="0" fill-opacity="0.9"/>
<circle cx="590.50" cy="120.10" r="1.55" fill="#e08a62" stroke="none" stroke-width="0" fill-opacity="0.9"/>
<circle cx="609.50" cy="123.20" r="1.55" fill="#e08a62" stroke="none" stroke-width="0" fill-opacity="0.9"/>
<circle cx="603.80" cy="126.10" r="1.55" fill="#e08a62" stroke="none" stroke-width="0" fill-opacity="0.9"/>
<circle cx="605.80" cy="126.50" r="1.55" fill="#e08a62" stroke="none" stroke-width="0" fill-opacity="0.9"/>
<circle cx="610.00" cy="134.20" r="1.55" fill="#e08a62" stroke="none" stroke-width="0" fill-opacity="0.9"/>
<circle cx="606.90" cy="136.10" r="1.55" fill="#e08a62" stroke="none" stroke-width="0" fill-opacity="0.9"/>
<circle cx="543.10" cy="139.20" r="1.55" fill="#e08a62" stroke="none" stroke-width="0" fill-opacity="0.9"/>
<circle cx="546.20" cy="134.50" r="1.55" fill="#e08a62" stroke="none" stroke-width="0" fill-opacity="0.9"/>
<circle cx="548.20" cy="140.70" r="1.55" fill="#e08a62" stroke="none" stroke-width="0" fill-opacity="0.9"/>
<circle cx="551.10" cy="138.80" r="1.55" fill="#e08a62" stroke="none" stroke-width="0" fill-opacity="0.9"/>
<circle cx="559.20" cy="133.80" r="1.55" fill="#e08a62" stroke="none" stroke-width="0" fill-opacity="0.9"/>
<circle cx="578.20" cy="135.80" r="1.55" fill="#e08a62" stroke="none" stroke-width="0" fill-opacity="0.9"/>
<circle cx="576.20" cy="140.40" r="1.55" fill="#e08a62" stroke="none" stroke-width="0" fill-opacity="0.9"/>
<circle cx="540.50" cy="147.60" r="1.55" fill="#e08a62" stroke="none" stroke-width="0" fill-opacity="0.9"/>
<circle cx="588.50" cy="148.10" r="1.55" fill="#e08a62" stroke="none" stroke-width="0" fill-opacity="0.9"/>
<circle cx="585.10" cy="153.20" r="1.55" fill="#e08a62" stroke="none" stroke-width="0" fill-opacity="0.9"/>
<circle cx="562.30" cy="157.30" r="1.55" fill="#e08a62" stroke="none" stroke-width="0" fill-opacity="0.9"/>
<circle cx="586.10" cy="23.70" r="2.20" fill="#7ec3d6" stroke="none" stroke-width="0" fill-opacity="0.85"/>
<text x="592.40" y="25.90" font-size="6.2" fill="#333" text-anchor="start">A</text>
<circle cx="586.10" cy="31.50" r="2.20" fill="#e08a62" stroke="none" stroke-width="0" fill-opacity="0.85"/>
<text x="592.40" y="33.70" font-size="6.2" fill="#333" text-anchor="start">B</text>
<circle cx="586.10" cy="39.30" r="2.20" fill="#b997cc" stroke="none" stroke-width="0" fill-opacity="0.85"/>
<text x="592.40" y="41.50" font-size="6.2" fill="#333" text-anchor="start">C</text>
<circle cx="586.10" cy="47.10" r="2.20" fill="#d5bf7c" stroke="none" stroke-width="0" fill-opacity="0.85"/>
<text x="592.40" y="49.30" font-size="6.2" fill="#333" text-anchor="start">D</text>
<circle cx="586.10" cy="54.90" r="2.20" fill="#a34f5e" stroke="none" stroke-width="0" fill-opacity="0.85"/>
<text x="592.40" y="57.10" font-size="6.2" fill="#333" text-anchor="start">E</text>
<circle cx="586.10" cy="62.70" r="2.20" fill="#4f667d" stroke="none" stroke-width="0" fill-opacity="0.85"/>
<text x="592.40" y="64.90" font-size="6.2" fill="#333" text-anchor="start">F</text>
<line x1="617.60" y1="27.60" x2="619.30" y2="27.60" stroke="#333" stroke-width="0.8"/>
<text x="620.40" y="29.90" font-size="6.4" fill="#222" text-anchor="start">2</text>
<line x1="617.60" y1="69.90" x2="619.30" y2="69.90" stroke="#333" stroke-width="0.8"/>
<text x="620.40" y="72.20" font-size="6.4" fill="#222" text-anchor="start">1</text>
<line x1="617.60" y1="112.20" x2="619.30" y2="112.20" stroke="#333" stroke-width="0.8"/>
<text x="620.40" y="114.50" font-size="6.4" fill="#222" text-anchor="start">0</text>
<line x1="617.60" y1="154.50" x2="619.30" y2="154.50" stroke="#333" stroke-width="0.8"/>
<text x="619.60" y="156.80" font-size="6.4" fill="#222" text-anchor="start">-1</text>
<line x1="631.50" y1="40.10" x2="631.50" y2="164.60" stroke="#7ec3d6" stroke-width="1.0"/>
<rect x="629.10" y="101.10" width="4.80" height="46.40" fill="#b9dde7" stroke="#7ec3d6" stroke-width="1.0"/>
<rect x="629.60" y="123.50" width="3.80" height="2.40" fill="#6ba5b5" stroke="none" stroke-width="1"/>
<line x1="638.35" y1="58.00" x2="638.35" y2="157.40" stroke="#e08a62" stroke-width="1.0"/>
<rect x="636.00" y="105.40" width="4.70" height="32.90" fill="#eeb89e" stroke="#e08a62" stroke-width="1.0"/>
<rect x="636.50" y="125.20" width="3.70" height="2.40" fill="#be7553" stroke="none" stroke-width="1"/>
<line x1="645.00" y1="101.10" x2="645.00" y2="163.80" stroke="#bfa3d3" stroke-width="1.0"/>
<rect x="642.40" y="110.10" width="5.20" height="31.10" fill="#d3bfe0" stroke="#b997cc" stroke-width="1.0"/>
<rect x="642.90" y="118.30" width="4.20" height="2.40" fill="#9d80ad" stroke="none" stroke-width="1"/>
<rect x="649.50" y="27.10" width="5.30" height="6.10" fill="#e6d89c" stroke="#d5bf7c" stroke-width="1.0"/>
<rect x="650.00" y="29.00" width="4.30" height="2.40" fill="#b5a269" stroke="none" stroke-width="1"/>
<circle cx="651.80" cy="18.90" r="1.10" fill="#d5bf7c" stroke="none" stroke-width="1"/>
<circle cx="651.80" cy="43.20" r="1.10" fill="#d5bf7c" stroke="none" stroke-width="1"/>
<line x1="658.90" y1="61.00" x2="658.90" y2="152.30" stroke="#d3a2aa" stroke-width="1.3"/>
<rect x="656.10" y="83.70" width="5.60" height="46.40" fill="#bd8890" stroke="#a34f5e" stroke-width="1.0"/>
<rect x="656.60" y="105.90" width="4.60" height="2.40" fill="#8a434f" stroke="none" stroke-width="1"/>
<line x1="665.85" y1="58.00" x2="665.85" y2="90.50" stroke="#4f667d" stroke-width="1.0"/>
<rect x="663.30" y="68.30" width="5.10" height="12.80" fill="#8d9cab" stroke="#4f667d" stroke-width="1.0"/>
<rect x="663.80" y="69.70" width="4.10" height="2.40" fill="#43566a" stroke="none" stroke-width="1"/>
<rect x="617.60" y="11.40" width="55.80" height="160.90" fill="none" stroke="#4a4a4a" stroke-width="1.1"/>
<text x="678.60" y="95.90" font-size="8.3" fill="#222" text-anchor="middle" transform="rotate(90 678.60 95.90)">NMDS2</text>
<line x1="464.60" y1="172.30" x2="464.60" y2="174.00" stroke="#333" stroke-width="0.8"/>
<text x="464.60" y="180.10" font-size="6.4" fill="#222" text-anchor="middle">-2</text>
<line x1="499.70" y1="172.30" x2="499.70" y2="174.00" stroke="#333" stroke-width="0.8"/>
<text x="499.70" y="180.10" font-size="6.4" fill="#222" text-anchor="middle">-1</text>
<line x1="534.80" y1="172.30" x2="534.80" y2="174.00" stroke="#333" stroke-width="0.8"/>
<text x="534.80" y="180.10" font-size="6.4" fill="#222" text-anchor="middle">0</text>
<line x1="569.90" y1="172.30" x2="569.90" y2="174.00" stroke="#333" stroke-width="0.8"/>
<text x="569.90" y="180.10" font-size="6.4" fill="#222" text-anchor="middle">1</text>
<line x1="605.00" y1="172.30" x2="605.00" y2="174.00" stroke="#333" stroke-width="0.8"/>
<text x="605.00" y="180.10" font-size="6.4" fill="#222" text-anchor="middle">2</text>
<line x1="464.00" y1="185.40" x2="589.10" y2="185.40" stroke="#7ec3d6" stroke-width="1.0"/>
<rect x="489.20" y="183.10" width="57.60" height="4.60" fill="#b9dde7" stroke="#7ec3d6" stroke-width="1.0"/>
<rect x="516.10" y="183.60" width="2.40" height="3.60" fill="#6ba5b5" stroke="none" stroke-width="1"/>
<line x1="518.30" y1="192.40" x2="610.00" y2="192.40" stroke="#e08a62" stroke-width="1.0"/>
<rect x="543.40" y="190.10" width="35.10" height="4.60" fill="#eeb89e" stroke="#e08a62" stroke-width="1.0"/>
<rect x="557.30" y="190.60" width="2.40" height="3.60" fill="#be7553" stroke="none" stroke-width="1"/>
<line x1="467.60" y1="198.90" x2="594.20" y2="198.90" stroke="#d6c4e1" stroke-width="1.5"/>
<rect x="527.20" y="196.30" width="63.40" height="5.20" fill="#d3bfe0" stroke="#b997cc" stroke-width="1.0"/>
<rect x="586.50" y="196.80" width="2.40" height="4.20" fill="#9d80ad" stroke="none" stroke-width="1"/>
<line x1="519.00" y1="205.80" x2="521.90" y2="205.80" stroke="#d5bf7c" stroke-width="1.0"/>
<rect x="519.00" y="203.20" width="2.90" height="5.20" fill="#e6d89c" stroke="#d5bf7c" stroke-width="1.0"/>
<rect x="519.20" y="203.70" width="2.40" height="4.20" fill="#b5a269" stroke="none" stroke-width="1"/>
<circle cx="513.70" cy="205.80" r="1.10" fill="#d5bf7c" stroke="none" stroke-width="1"/>
<circle cx="527.30" cy="205.80" r="1.10" fill="#d5bf7c" stroke="none" stroke-width="1"/>
<line x1="478.30" y1="212.50" x2="549.70" y2="212.50" stroke="#a34f5e" stroke-width="1.0"/>
<rect x="495.80" y="210.20" width="36.00" height="4.60" fill="#bd8890" stroke="#a34f5e" stroke-width="1.0"/>
<rect x="512.50" y="210.70" width="2.40" height="3.60" fill="#8a434f" stroke="none" stroke-width="1"/>
<line x1="458.90" y1="219.30" x2="475.60" y2="219.30" stroke="#4f667d" stroke-width="1.0"/>
<rect x="465.00" y="216.80" width="10.00" height="5.00" fill="#8d9cab" stroke="#4f667d" stroke-width="1.0"/>
<rect x="468.80" y="217.30" width="2.40" height="4.00" fill="#43566a" stroke="none" stroke-width="1"/>
<circle cx="606.20" cy="218.90" r="1.10" fill="#4f667d" stroke="none" stroke-width="1"/>
<rect x="451.30" y="172.30" width="166.30" height="52.80" fill="none" stroke="#4a4a4a" stroke-width="1.1"/>
<text x="536.90" y="235.00" font-size="8.5" fill="#222" text-anchor="middle">NMDS1</text>
<text x="624.40" y="186.90" font-size="7" fill="#222" text-anchor="start" style="white-space:pre">Stress  = 0.1468</text>
<text x="624.40" y="203.75" font-size="7" fill="#222" text-anchor="start" style="white-space:pre">Adonis  = 0.04 ***</text>
<text x="624.40" y="220.60" font-size="7" fill="#222" text-anchor="start" style="white-space:pre">Anosim  = 0.35 ***</text>
<text x="444.20" y="266.00" font-size="14" fill="#111" text-anchor="start" font-weight="bold">f</text>
<line x1="538.50" y1="268.90" x2="538.50" y2="426.30" stroke="#666" stroke-width="1.3" stroke-dasharray="9.3 9.5"/>
<line x1="453.00" y1="355.50" x2="618.40" y2="355.50" stroke="#808080" stroke-width="1.5" stroke-dasharray="9.4 9.4"/>
<circle cx="499.10" cy="272.10" r="1.55" fill="#7ec3d6" stroke="none" stroke-width="0" fill-opacity="0.9"/>
<circle cx="498.40" cy="277.60" r="1.55" fill="#7ec3d6" stroke="none" stroke-width="0" fill-opacity="0.9"/>
<circle cx="517.70" cy="274.70" r="1.55" fill="#7ec3d6" stroke="none" stroke-width="0" fill-opacity="0.9"/>
<circle cx="479.90" cy="292.50" r="1.55" fill="#7ec3d6" stroke="none" stroke-width="0" fill-opacity="0.9"/>
<circle cx="475.50" cy="297.80" r="1.55" fill="#7ec3d6" stroke="none" stroke-width="0" fill-opacity="0.9"/>
<circle cx="463.60" cy="305.80" r="1.55" fill="#b997cc" stroke="none" stroke-width="0" fill-opacity="0.9"/>
<circle cx="526.60" cy="329.90" r="1.55" fill="#e08a62" stroke="none" stroke-width="0" fill-opacity="0.9"/>
<circle cx="568.00" cy="280.80" r="1.55" fill="#e08a62" stroke="none" stroke-width="0" fill-opacity="0.9"/>
<circle cx="565.00" cy="289.60" r="1.55" fill="#e08a62" stroke="none" stroke-width="0" fill-opacity="0.9"/>
<circle cx="575.50" cy="293.00" r="1.55" fill="#e08a62" stroke="none" stroke-width="0" fill-opacity="0.9"/>
<circle cx="558.50" cy="308.00" r="1.55" fill="#e08a62" stroke="none" stroke-width="0" fill-opacity="0.9"/>
<circle cx="567.50" cy="308.00" r="1.55" fill="#e08a62" stroke="none" stroke-width="0" fill-opacity="0.9"/>
<circle cx="546.40" cy="323.20" r="1.55" fill="#e08a62" stroke="none" stroke-width="0" fill-opacity="0.9"/>
<circle cx="550.90" cy="320.70" r="1.55" fill="#e08a62" stroke="none" stroke-width="0" fill-opacity="0.9"/>
<circle cx="568.20" cy="324.30" r="1.55" fill="#e08a62" stroke="none" stroke-width="0" fill-opacity="0.9"/>
<circle cx="571.60" cy="327.00" r="1.55" fill="#e08a62" stroke="none" stroke-width="0" fill-opacity="0.9"/>
<circle cx="566.90" cy="329.50" r="1.55" fill="#e08a62" stroke="none" stroke-width="0" fill-opacity="0.9"/>
<circle cx="571.30" cy="329.70" r="1.55" fill="#e08a62" stroke="none" stroke-width="0" fill-opacity="0.9"/>
<circle cx="594.20" cy="330.60" r="1.55" fill="#e08a62" stroke="none" stroke-width="0" fill-opacity="0.9"/>
<circle cx="597.90" cy="333.80" r="1.55" fill="#e08a62" stroke="none" stroke-width="0" fill-opacity="0.9"/>
<circle cx="546.10" cy="334.60" r="1.55" fill="#e08a62" stroke="none" stroke-width="0" fill-opacity="0.9"/>
<circle cx="552.30" cy="334.60" r="1.55" fill="#e08a62" stroke="none" stroke-width="0" fill-opacity="0.9"/>
<circle cx="558.80" cy="291.10" r="1.55" fill="#7ec3d6" stroke="none" stroke-width="0" fill-opacity="0.9"/>
<circle cx="545.60" cy="298.40" r="1.55" fill="#b997cc" stroke="none" stroke-width="0" fill-opacity="0.9"/>
<circle cx="460.30" cy="355.10" r="1.55" fill="#4f667d" stroke="none" stroke-width="0" fill-opacity="0.9"/>
<circle cx="463.70" cy="354.80" r="1.55" fill="#4f667d" stroke="none" stroke-width="0" fill-opacity="0.9"/>
<circle cx="467.30" cy="353.10" r="1.55" fill="#4f667d" stroke="none" stroke-width="0" fill-opacity="0.9"/>
<circle cx="475.20" cy="365.80" r="1.55" fill="#4f667d" stroke="none" stroke-width="0" fill-opacity="0.9"/>
<circle cx="483.70" cy="368.20" r="1.55" fill="#4f667d" stroke="none" stroke-width="0" fill-opacity="0.9"/>
<circle cx="471.30" cy="358.90" r="1.55" fill="#7ec3d6" stroke="none" stroke-width="0" fill-opacity="0.9"/>
<circle cx="483.70" cy="352.60" r="1.55" fill="#7ec3d6" stroke="none" stroke-width="0" fill-opacity="0.9"/>
<circle cx="486.90" cy="350.90" r="1.55" fill="#7ec3d6" stroke="none" stroke-width="0" fill-opacity="0.9"/>
<circle cx="494.30" cy="353.60" r="1.55" fill="#7ec3d6" stroke="none" stroke-width="0" fill-opacity="0.9"/>
<circle cx="497.30" cy="356.70" r="1.55" fill="#7ec3d6" stroke="none" stroke-width="0" fill-opacity="0.9"/>
<circle cx="501.90" cy="357.70" r="1.55" fill="#7ec3d6" stroke="none" stroke-width="0" fill-opacity="0.9"/>
<circle cx="508.80" cy="369.70" r="1.55" fill="#7ec3d6" stroke="none" stroke-width="0" fill-opacity="0.9"/>
<circle cx="519.00" cy="373.80" r="1.55" fill="#7ec3d6" stroke="none" stroke-width="0" fill-opacity="0.9"/>
<circle cx="531.60" cy="359.20" r="1.55" fill="#7ec3d6" stroke="none" stroke-width="0" fill-opacity="0.9"/>
<circle cx="528.20" cy="362.80" r="1.55" fill="#7ec3d6" stroke="none" stroke-width="0" fill-opacity="0.9"/>
<circle cx="530.40" cy="364.30" r="1.55" fill="#7ec3d6" stroke="none" stroke-width="0" fill-opacity="0.9"/>
<circle cx="531.90" cy="375.30" r="1.55" fill="#7ec3d6" stroke="none" stroke-width="0" fill-opacity="0.9"/>
<circle cx="509.20" cy="386.50" r="1.55" fill="#7ec3d6" stroke="none" stroke-width="0" fill-opacity="0.9"/>
<circle cx="498.70" cy="391.30" r="1.55" fill="#7ec3d6" stroke="none" stroke-width="0" fill-opacity="0.9"/>
<circle cx="507.00" cy="391.60" r="1.55" fill="#7ec3d6" stroke="none" stroke-width="0" fill-opacity="0.9"/>
<circle cx="500.80" cy="395.70" r="1.55" fill="#7ec3d6" stroke="none" stroke-width="0" fill-opacity="0.9"/>
<circle cx="506.30" cy="403.70" r="1.55" fill="#7ec3d6" stroke="none" stroke-width="0" fill-opacity="0.9"/>
<circle cx="541.80" cy="356.60" r="1.55" fill="#7ec3d6" stroke="none" stroke-width="0" fill-opacity="0.9"/>
<circle cx="543.10" cy="380.10" r="1.55" fill="#7ec3d6" stroke="none" stroke-width="0" fill-opacity="0.9"/>
<circle cx="493.50" cy="391.30" r="1.55" fill="#a34f5e" stroke="none" stroke-width="0" fill-opacity="0.9"/>
<circle cx="540.60" cy="362.40" r="1.55" fill="#e08a62" stroke="none" stroke-width="0" fill-opacity="0.9"/>
<circle cx="541.80" cy="368.70" r="1.55" fill="#e08a62" stroke="none" stroke-width="0" fill-opacity="0.9"/>
<circle cx="534.80" cy="384.00" r="1.55" fill="#e08a62" stroke="none" stroke-width="0" fill-opacity="0.9"/>
<circle cx="530.40" cy="401.10" r="1.55" fill="#d5bf7c" stroke="none" stroke-width="0" fill-opacity="0.9"/>
<circle cx="533.60" cy="400.50" r="1.55" fill="#d5bf7c" stroke="none" stroke-width="0" fill-opacity="0.9"/>
<circle cx="533.60" cy="405.50" r="1.55" fill="#d5bf7c" stroke="none" stroke-width="0" fill-opacity="0.9"/>
<circle cx="533.00" cy="411.20" r="1.55" fill="#d5bf7c" stroke="none" stroke-width="0" fill-opacity="0.9"/>
<circle cx="558.90" cy="336.10" r="1.55" fill="#e08a62" stroke="none" stroke-width="0" fill-opacity="0.9"/>
<circle cx="593.20" cy="337.60" r="1.55" fill="#e08a62" stroke="none" stroke-width="0" fill-opacity="0.9"/>
<circle cx="599.80" cy="340.70" r="1.55" fill="#e08a62" stroke="none" stroke-width="0" fill-opacity="0.9"/>
<circle cx="612.20" cy="344.20" r="1.55" fill="#e08a62" stroke="none" stroke-width="0" fill-opacity="0.9"/>
<circle cx="572.80" cy="344.90" r="1.55" fill="#e08a62" stroke="none" stroke-width="0" fill-opacity="0.9"/>
<circle cx="563.30" cy="349.00" r="1.55" fill="#e08a62" stroke="none" stroke-width="0" fill-opacity="0.9"/>
<circle cx="553.10" cy="368.40" r="1.55" fill="#e08a62" stroke="none" stroke-width="0" fill-opacity="0.9"/>
<circle cx="563.10" cy="369.00" r="1.55" fill="#e08a62" stroke="none" stroke-width="0" fill-opacity="0.9"/>
<circle cx="584.00" cy="372.30" r="1.55" fill="#e08a62" stroke="none" stroke-width="0" fill-opacity="0.9"/>
<circle cx="546.50" cy="377.40" r="1.55" fill="#e08a62" stroke="none" stroke-width="0" fill-opacity="0.9"/>
<circle cx="556.30" cy="376.70" r="1.55" fill="#e08a62" stroke="none" stroke-width="0" fill-opacity="0.9"/>
<circle cx="571.90" cy="387.40" r="1.55" fill="#e08a62" stroke="none" stroke-width="0" fill-opacity="0.9"/>
<circle cx="558.50" cy="394.70" r="1.55" fill="#e08a62" stroke="none" stroke-width="0" fill-opacity="0.9"/>
<circle cx="544.20" cy="403.00" r="1.55" fill="#e08a62" stroke="none" stroke-width="0" fill-opacity="0.9"/>
<circle cx="556.60" cy="343.60" r="1.55" fill="#7ec3d6" stroke="none" stroke-width="0" fill-opacity="0.9"/>
<circle cx="551.90" cy="355.10" r="1.55" fill="#7ec3d6" stroke="none" stroke-width="0" fill-opacity="0.9"/>
<circle cx="557.70" cy="366.20" r="1.55" fill="#7ec3d6" stroke="none" stroke-width="0" fill-opacity="0.9"/>
<circle cx="550.40" cy="371.90" r="1.55" fill="#7ec3d6" stroke="none" stroke-width="0" fill-opacity="0.9"/>
<circle cx="562.80" cy="371.20" r="1.55" fill="#7ec3d6" stroke="none" stroke-width="0" fill-opacity="0.9"/>
<circle cx="553.60" cy="378.90" r="1.55" fill="#7ec3d6" stroke="none" stroke-width="0" fill-opacity="0.9"/>
<circle cx="557.70" cy="382.30" r="1.55" fill="#7ec3d6" stroke="none" stroke-width="0" fill-opacity="0.9"/>
<circle cx="561.10" cy="385.20" r="1.55" fill="#7ec3d6" stroke="none" stroke-width="0" fill-opacity="0.9"/>
<circle cx="588.10" cy="380.40" r="1.55" fill="#7ec3d6" stroke="none" stroke-width="0" fill-opacity="0.9"/>
<circle cx="569.40" cy="408.50" r="1.55" fill="#7ec3d6" stroke="none" stroke-width="0" fill-opacity="0.9"/>
<circle cx="552.60" cy="388.10" r="1.55" fill="#4f667d" stroke="none" stroke-width="0" fill-opacity="0.9"/>
<circle cx="549.40" cy="393.80" r="1.55" fill="#a34f5e" stroke="none" stroke-width="0" fill-opacity="0.9"/>
<circle cx="598.20" cy="418.50" r="1.55" fill="#b997cc" stroke="none" stroke-width="0" fill-opacity="0.9"/>
<circle cx="597.90" cy="271.80" r="2.20" fill="#7ec3d6" stroke="none" stroke-width="0" fill-opacity="0.85"/>
<text x="604.20" y="274.00" font-size="6.2" fill="#333" text-anchor="start">A</text>
<circle cx="597.90" cy="279.55" r="2.20" fill="#e08a62" stroke="none" stroke-width="0" fill-opacity="0.85"/>
<text x="604.20" y="281.75" font-size="6.2" fill="#333" text-anchor="start">B</text>
<circle cx="597.90" cy="287.30" r="2.20" fill="#b997cc" stroke="none" stroke-width="0" fill-opacity="0.85"/>
<text x="604.20" y="289.50" font-size="6.2" fill="#333" text-anchor="start">C</text>
<circle cx="597.90" cy="295.05" r="2.20" fill="#d5bf7c" stroke="none" stroke-width="0" fill-opacity="0.85"/>
<text x="604.20" y="297.25" font-size="6.2" fill="#333" text-anchor="start">D</text>
<circle cx="597.90" cy="302.80" r="2.20" fill="#a34f5e" stroke="none" stroke-width="0" fill-opacity="0.85"/>
<text x="604.20" y="305.00" font-size="6.2" fill="#333" text-anchor="start">E</text>
<circle cx="597.90" cy="310.55" r="2.20" fill="#4f667d" stroke="none" stroke-width="0" fill-opacity="0.85"/>
<text x="604.20" y="312.75" font-size="6.2" fill="#333" text-anchor="start">F</text>
<line x1="618.40" y1="280.15" x2="620.10" y2="280.15" stroke="#333" stroke-width="0.8"/>
<text x="621.20" y="282.45" font-size="6.4" fill="#222" text-anchor="start">2</text>
<line x1="618.40" y1="317.80" x2="620.10" y2="317.80" stroke="#333" stroke-width="0.8"/>
<text x="621.20" y="320.10" font-size="6.4" fill="#222" text-anchor="start">1</text>
<line x1="618.40" y1="355.45" x2="620.10" y2="355.45" stroke="#333" stroke-width="0.8"/>
<text x="621.20" y="357.75" font-size="6.4" fill="#222" text-anchor="start">0</text>
<line x1="618.40" y1="393.10" x2="620.10" y2="393.10" stroke="#333" stroke-width="0.8"/>
<text x="620.40" y="395.40" font-size="6.4" fill="#222" text-anchor="start">-1</text>
<line x1="632.45" y1="343.40" x2="632.45" y2="408.30" stroke="#7ec3d6" stroke-width="1.0"/>
<rect x="630.10" y="354.50" width="4.70" height="26.00" fill="#b9dde7" stroke="#7ec3d6" stroke-width="1.0"/>
<rect x="630.60" y="364.90" width="3.70" height="2.40" fill="#6ba5b5" stroke="none" stroke-width="1"/>
<circle cx="632.40" cy="272.10" r="1.35" fill="#7ec3d6" stroke="none" stroke-width="1"/>
<circle cx="632.40" cy="274.30" r="1.35" fill="#7ec3d6" stroke="none" stroke-width="1"/>
<circle cx="632.40" cy="277.20" r="1.35" fill="#7ec3d6" stroke="none" stroke-width="1"/>
<circle cx="632.40" cy="290.90" r="1.35" fill="#7ec3d6" stroke="none" stroke-width="1"/>
<circle cx="632.40" cy="292.20" r="1.35" fill="#7ec3d6" stroke="none" stroke-width="1"/>
<circle cx="632.40" cy="297.70" r="1.35" fill="#7ec3d6" stroke="none" stroke-width="1"/>
<line x1="639.45" y1="281.00" x2="639.45" y2="402.80" stroke="#e08a62" stroke-width="1.0"/>
<rect x="637.00" y="327.00" width="4.90" height="41.20" fill="#eeb89e" stroke="#e08a62" stroke-width="1.0"/>
<rect x="637.50" y="334.00" width="3.90" height="2.40" fill="#be7553" stroke="none" stroke-width="1"/>
<line x1="646.10" y1="298.50" x2="646.10" y2="418.50" stroke="#bfa3d3" stroke-width="1.0"/>
<rect x="643.30" y="302.00" width="5.60" height="60.20" fill="#d3bfe0" stroke="#b997cc" stroke-width="1.0"/>
<rect x="643.80" y="303.80" width="4.60" height="2.40" fill="#9d80ad" stroke="none" stroke-width="1"/>
<line x1="653.05" y1="400.10" x2="653.05" y2="410.90" stroke="#d5bf7c" stroke-width="1.0"/>
<rect x="650.50" y="400.10" width="5.10" height="5.30" fill="#e6d89c" stroke="#d5bf7c" stroke-width="1.0"/>
<rect x="650.50" y="400.10" width="5.10" height="5.30" fill="#d8c65c" stroke="none" stroke-width="1"/>
<rect x="650.80" y="401.80" width="4.50" height="1.80" fill="#c9b050" stroke="none" stroke-width="1"/>
<rect x="657.50" y="391.20" width="4.90" height="2.60" fill="#bd8890" stroke="#a34f5e" stroke-width="1.0"/>
<rect x="657.50" y="391.20" width="4.90" height="2.60" fill="#9a4a58" stroke="none" stroke-width="1"/>
<line x1="666.65" y1="353.30" x2="666.65" y2="367.70" stroke="#4f667d" stroke-width="1.0"/>
<rect x="664.10" y="354.50" width="5.10" height="13.20" fill="#8d9cab" stroke="#4f667d" stroke-width="1.0"/>
<rect x="664.60" y="358.90" width="4.10" height="2.40" fill="#43566a" stroke="none" stroke-width="1"/>
<circle cx="666.90" cy="388.10" r="1.10" fill="#4f667d" stroke="none" stroke-width="1"/>
<rect x="618.40" y="265.10" width="56.00" height="159.90" fill="none" stroke="#4a4a4a" stroke-width="1.1"/>
<text x="678.60" y="348.00" font-size="8.3" fill="#222" text-anchor="middle" transform="rotate(90 678.60 348.00)">NMDS2</text>
<line x1="456.95" y1="426.30" x2="456.95" y2="428.00" stroke="#333" stroke-width="0.8"/>
<text x="456.95" y="434.20" font-size="6.4" fill="#222" text-anchor="middle">-3</text>
<line x1="484.00" y1="426.30" x2="484.00" y2="428.00" stroke="#333" stroke-width="0.8"/>
<text x="484.00" y="434.20" font-size="6.4" fill="#222" text-anchor="middle">-2</text>
<line x1="511.05" y1="426.30" x2="511.05" y2="428.00" stroke="#333" stroke-width="0.8"/>
<text x="511.05" y="434.20" font-size="6.4" fill="#222" text-anchor="middle">-1</text>
<line x1="538.10" y1="426.30" x2="538.10" y2="428.00" stroke="#333" stroke-width="0.8"/>
<text x="538.10" y="434.20" font-size="6.4" fill="#222" text-anchor="middle">0</text>
<line x1="565.15" y1="426.30" x2="565.15" y2="428.00" stroke="#333" stroke-width="0.8"/>
<text x="565.15" y="434.20" font-size="6.4" fill="#222" text-anchor="middle">1</text>
<line x1="592.20" y1="426.30" x2="592.20" y2="428.00" stroke="#333" stroke-width="0.8"/>
<text x="592.20" y="434.20" font-size="6.4" fill="#222" text-anchor="middle">2</text>
<line x1="471.30" y1="439.40" x2="588.10" y2="439.40" stroke="#7ec3d6" stroke-width="1.0"/>
<rect x="499.70" y="436.90" width="53.90" height="5.00" fill="#b9dde7" stroke="#7ec3d6" stroke-width="1.0"/>
<rect x="528.20" y="437.40" width="2.40" height="4.00" fill="#6ba5b5" stroke="none" stroke-width="1"/>
<line x1="526.80" y1="446.00" x2="599.80" y2="446.00" stroke="#eaa98a" stroke-width="1.0"/>
<rect x="551.50" y="443.50" width="21.30" height="5.00" fill="#eeb89e" stroke="#e08a62" stroke-width="1.0"/>
<rect x="563.10" y="444.00" width="2.40" height="4.00" fill="#be7553" stroke="none" stroke-width="1"/>
<circle cx="612.20" cy="446.30" r="1.10" fill="#e08a62" stroke="none" stroke-width="1"/>
<line x1="463.70" y1="452.60" x2="598.20" y2="452.60" stroke="#c9b0d9" stroke-width="1.0"/>
<rect x="504.10" y="450.10" width="68.20" height="5.00" fill="#d3bfe0" stroke="#b997cc" stroke-width="1.0"/>
<rect x="544.40" y="450.60" width="2.40" height="4.00" fill="#9d80ad" stroke="none" stroke-width="1"/>
<line x1="530.80" y1="459.50" x2="534.50" y2="459.50" stroke="#d5bf7c" stroke-width="1.0"/>
<rect x="530.80" y="457.40" width="3.70" height="4.20" fill="#e6d89c" stroke="#d5bf7c" stroke-width="1.0"/>
<rect x="531.40" y="457.90" width="2.40" height="3.20" fill="#b5a269" stroke="none" stroke-width="1"/>
<rect x="530.80" y="457.40" width="3.70" height="4.20" fill="#d9c63a" stroke="none" stroke-width="1"/>
<line x1="493.50" y1="466.20" x2="549.40" y2="466.20" stroke="#a34f5e" stroke-width="1.0"/>
<rect x="507.00" y="463.80" width="28.80" height="4.80" fill="#bd8890" stroke="#a34f5e" stroke-width="1.0"/>
<rect x="520.00" y="464.30" width="2.40" height="3.80" fill="#8a434f" stroke="none" stroke-width="1"/>
<line x1="460.30" y1="473.00" x2="483.70" y2="473.00" stroke="#4f667d" stroke-width="1.0"/>
<rect x="464.00" y="470.50" width="17.80" height="5.00" fill="#8d9cab" stroke="#4f667d" stroke-width="1.0"/>
<rect x="470.10" y="471.00" width="2.40" height="4.00" fill="#43566a" stroke="none" stroke-width="1"/>
<circle cx="552.90" cy="473.00" r="1.10" fill="#4f667d" stroke="none" stroke-width="1"/>
<rect x="452.30" y="426.30" width="166.10" height="52.50" fill="none" stroke="#4a4a4a" stroke-width="1.1"/>
<text x="541.00" y="491.80" font-size="8.5" fill="#222" text-anchor="middle">NMDS1</text>
<text x="624.40" y="441.40" font-size="7" fill="#222" text-anchor="start" style="white-space:pre">Stress  = 0.1541</text>
<text x="624.40" y="458.20" font-size="7" fill="#222" text-anchor="start" style="white-space:pre">Adonis  = 0.04 ***</text>
<text x="624.40" y="475.00" font-size="7" fill="#222" text-anchor="start" style="white-space:pre">Anosim  = 0.33 ***</text>
<rect x="232.2" y="520.0" width="396.4" height="64.3" rx="13" ry="13" fill="none" stroke="#555" stroke-width="1"/>
<rect x="254.80" y="532.30" width="12.00" height="12.20" fill="#5b7796" stroke="none" stroke-width="1"/>
<text x="271.90" y="541.20" font-size="7.35" fill="#111" text-anchor="start" font-weight="bold">c__ABY1</text>
<rect x="254.80" y="545.70" width="12.00" height="12.20" fill="#7bbde8" stroke="none" stroke-width="1"/>
<text x="271.90" y="554.60" font-size="7.35" fill="#111" text-anchor="start" font-weight="bold">c__CPR2</text>
<rect x="254.80" y="559.10" width="12.00" height="12.20" fill="#85aab9" stroke="none" stroke-width="1"/>
<text x="271.90" y="568.00" font-size="7.35" fill="#111" text-anchor="start" font-weight="bold">c__Dojkabacteria</text>
<rect x="337.00" y="532.30" width="12.00" height="12.20" fill="#d4a37c" stroke="none" stroke-width="1"/>
<text x="353.70" y="541.20" font-size="7.35" fill="#111" text-anchor="start" font-weight="bold">c__Doudnabacteria</text>
<rect x="337.00" y="545.70" width="12.00" height="12.20" fill="#dfbb93" stroke="none" stroke-width="1"/>
<text x="353.70" y="554.60" font-size="7.35" fill="#111" text-anchor="start" font-weight="bold">c__Microgenomatia</text>
<rect x="337.00" y="559.10" width="12.00" height="12.20" fill="#787e81" stroke="none" stroke-width="1"/>
<text x="353.70" y="568.00" font-size="7.35" fill="#111" text-anchor="start" font-weight="bold">c__Paceibacteria</text>
<rect x="427.30" y="532.30" width="12.00" height="12.20" fill="#84c4a6" stroke="none" stroke-width="1"/>
<text x="444.10" y="541.20" font-size="7.35" fill="#111" text-anchor="start" font-weight="bold">c__Saccharimonadia</text>
<rect x="427.30" y="545.70" width="12.00" height="12.20" fill="#92d1b6" stroke="none" stroke-width="1"/>
<text x="444.10" y="554.60" font-size="7.35" fill="#111" text-anchor="start" font-weight="bold">c__UBA1384</text>
<rect x="427.30" y="559.10" width="12.00" height="12.20" fill="#9c6aa0" stroke="none" stroke-width="1"/>
<text x="444.10" y="568.00" font-size="7.35" fill="#111" text-anchor="start" font-weight="bold">o__Anstonellales</text>
<rect x="522.70" y="532.30" width="12.00" height="12.20" fill="#c98592" stroke="none" stroke-width="1"/>
<text x="539.30" y="541.20" font-size="7.35" fill="#111" text-anchor="start" font-weight="bold">o__Micrarchaeales</text>
<rect x="522.70" y="545.70" width="12.00" height="12.20" fill="#c09aa6" stroke="none" stroke-width="1"/>
<text x="539.30" y="554.60" font-size="7.35" fill="#111" text-anchor="start" font-weight="bold">o__Parvarchaeales</text>
<rect x="522.70" y="559.10" width="12.00" height="12.20" fill="#ab7dc7" stroke="none" stroke-width="1"/>
<text x="539.30" y="568.00" font-size="7.35" fill="#111" text-anchor="start" font-weight="bold">o__Woesearchaeales</text></svg></body></html>
